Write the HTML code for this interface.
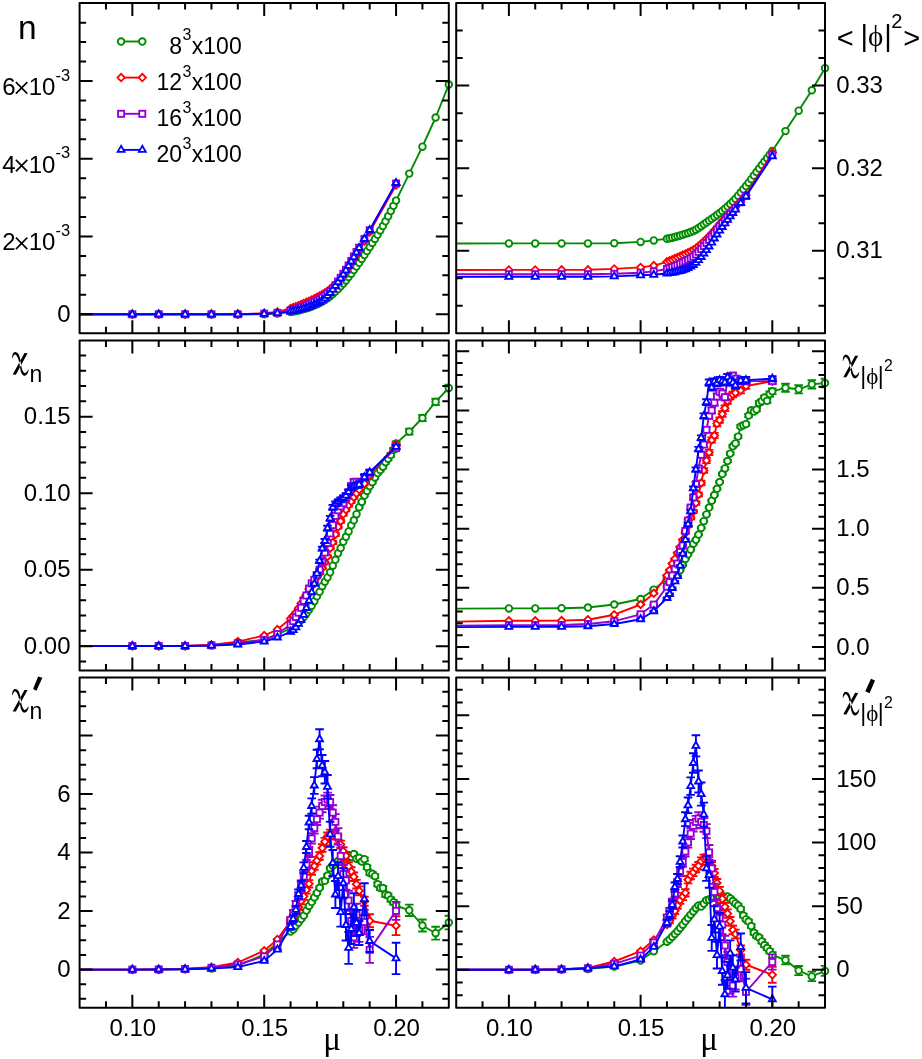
<!DOCTYPE html><html><head><meta charset="utf-8"><title>chart</title><style>html,body{margin:0;padding:0;background:#fff}svg{display:block;will-change:transform}text{font-family:"Liberation Sans",sans-serif;fill:#000}.s{font-family:"Liberation Serif",serif}</style></head><body>
<svg width="922" height="1059" viewBox="0 0 922 1059">
<rect width="922" height="1059" fill="#fff"/>
<defs><clipPath id="clip_n"><rect x="79.6" y="3.1" width="369.2" height="330.1"/></clipPath><clipPath id="clip_phi"><rect x="456.2" y="3.1" width="368.8" height="330.1"/></clipPath><clipPath id="clip_cn"><rect x="79.6" y="340.5" width="369.2" height="330"/></clipPath><clipPath id="clip_cphi"><rect x="456.2" y="340.5" width="368.8" height="330"/></clipPath><clipPath id="clip_dn"><rect x="79.6" y="677.4" width="369.2" height="330.45"/></clipPath><clipPath id="clip_dphi"><rect x="456.2" y="677.4" width="368.8" height="330.45"/></clipPath></defs>
<g stroke="#008b00" stroke-width="1.9" fill="none">
<g clip-path="url(#clip_n)">
<polyline stroke-linejoin="round" points="79.6,314.3 132.34,314.3 158.71,314.3 185.09,314.3 211.46,314.3 237.83,314.3 264.2,314.3 277.39,313.4 290.57,312 293.21,311.57 295.85,311.06 298.48,310.46 301.12,309.81 303.76,309.1 306.39,308.31 309.03,307.41 311.67,306.41 314.31,305.34 316.94,304.2 319.58,302.96 322.22,301.56 324.85,300 327.49,298.25 330.13,296.3 332.77,294.06 335.4,291.58 338.04,289.02 340.68,286.36 343.31,283.5 345.95,280.4 348.59,277.11 351.23,273.67 353.86,270.12 356.5,266.5 359.14,262.79 361.77,258.96 364.41,255.03 367.05,251.04 369.69,247 372.32,242.96 374.96,238.9 377.6,234.76 380.23,230.48 382.87,226 385.51,221.25 388.15,216.26 390.78,211.1 393.42,205.86 396.06,200.6 409.24,173.6 422.43,146.7 435.61,117.5 448.8,84.5"/>
</g>
<g fill="#fff" stroke-width="1.85">
<circle cx="132.34" cy="314.3" r="3.3"/>
<circle cx="158.71" cy="314.3" r="3.3"/>
<circle cx="185.09" cy="314.3" r="3.3"/>
<circle cx="211.46" cy="314.3" r="3.3"/>
<circle cx="237.83" cy="314.3" r="3.3"/>
<circle cx="264.2" cy="314.3" r="3.3"/>
<circle cx="277.39" cy="313.4" r="3.3"/>
<circle cx="290.57" cy="312" r="3.3"/>
<circle cx="293.21" cy="311.57" r="3.3"/>
<circle cx="295.85" cy="311.06" r="3.3"/>
<circle cx="298.48" cy="310.46" r="3.3"/>
<circle cx="301.12" cy="309.81" r="3.3"/>
<circle cx="303.76" cy="309.1" r="3.3"/>
<circle cx="306.39" cy="308.31" r="3.3"/>
<circle cx="309.03" cy="307.41" r="3.3"/>
<circle cx="311.67" cy="306.41" r="3.3"/>
<circle cx="314.31" cy="305.34" r="3.3"/>
<circle cx="316.94" cy="304.2" r="3.3"/>
<circle cx="319.58" cy="302.96" r="3.3"/>
<circle cx="322.22" cy="301.56" r="3.3"/>
<circle cx="324.85" cy="300" r="3.3"/>
<circle cx="327.49" cy="298.25" r="3.3"/>
<circle cx="330.13" cy="296.3" r="3.3"/>
<circle cx="332.77" cy="294.06" r="3.3"/>
<circle cx="335.4" cy="291.58" r="3.3"/>
<circle cx="338.04" cy="289.02" r="3.3"/>
<circle cx="340.68" cy="286.36" r="3.3"/>
<circle cx="343.31" cy="283.5" r="3.3"/>
<circle cx="345.95" cy="280.4" r="3.3"/>
<circle cx="348.59" cy="277.11" r="3.3"/>
<circle cx="351.23" cy="273.67" r="3.3"/>
<circle cx="353.86" cy="270.12" r="3.3"/>
<circle cx="356.5" cy="266.5" r="3.3"/>
<circle cx="359.14" cy="262.79" r="3.3"/>
<circle cx="361.77" cy="258.96" r="3.3"/>
<circle cx="364.41" cy="255.03" r="3.3"/>
<circle cx="367.05" cy="251.04" r="3.3"/>
<circle cx="369.69" cy="247" r="3.3"/>
<circle cx="372.32" cy="242.96" r="3.3"/>
<circle cx="374.96" cy="238.9" r="3.3"/>
<circle cx="377.6" cy="234.76" r="3.3"/>
<circle cx="380.23" cy="230.48" r="3.3"/>
<circle cx="382.87" cy="226" r="3.3"/>
<circle cx="385.51" cy="221.25" r="3.3"/>
<circle cx="388.15" cy="216.26" r="3.3"/>
<circle cx="390.78" cy="211.1" r="3.3"/>
<circle cx="393.42" cy="205.86" r="3.3"/>
<circle cx="396.06" cy="200.6" r="3.3"/>
<circle cx="409.24" cy="173.6" r="3.3"/>
<circle cx="422.43" cy="146.7" r="3.3"/>
<circle cx="435.61" cy="117.5" r="3.3"/>
<circle cx="448.8" cy="84.5" r="3.3"/>
</g></g>
<g stroke="#ff0000" stroke-width="1.9" fill="none">
<g clip-path="url(#clip_n)">
<polyline stroke-linejoin="round" points="79.6,314.3 132.34,314.3 158.71,314.3 185.09,314.3 211.46,314.3 237.83,314.3 264.2,313.3 277.39,312 290.57,308.5 293.21,307.63 295.85,306.68 298.48,305.66 301.12,304.6 303.76,303.5 306.39,302.37 309.03,301.19 311.67,299.96 314.31,298.66 316.94,297.3 319.58,295.9 322.22,294.46 324.85,292.91 327.49,291.21 330.13,289.3 332.77,287.08 335.4,284.51 338.04,281.66 340.68,278.57 343.31,275.3 345.95,271.69 348.59,267.64 351.23,263.33 353.86,258.89 356.5,254.5 359.14,250.13 364.41,241.15 369.69,232 396.06,185"/>
</g>
<g fill="#fff" stroke-width="1.85">
<path d="M128.64 314.3L132.34 310.6L136.04 314.3L132.34 318Z"/>
<path d="M155.01 314.3L158.71 310.6L162.41 314.3L158.71 318Z"/>
<path d="M181.39 314.3L185.09 310.6L188.79 314.3L185.09 318Z"/>
<path d="M207.76 314.3L211.46 310.6L215.16 314.3L211.46 318Z"/>
<path d="M234.13 314.3L237.83 310.6L241.53 314.3L237.83 318Z"/>
<path d="M260.5 313.3L264.2 309.6L267.9 313.3L264.2 317Z"/>
<path d="M273.69 312L277.39 308.3L281.09 312L277.39 315.7Z"/>
<path d="M286.87 308.5L290.57 304.8L294.27 308.5L290.57 312.2Z"/>
<path d="M289.51 307.63L293.21 303.93L296.91 307.63L293.21 311.33Z"/>
<path d="M292.15 306.68L295.85 302.98L299.55 306.68L295.85 310.38Z"/>
<path d="M294.78 305.66L298.48 301.96L302.18 305.66L298.48 309.36Z"/>
<path d="M297.42 304.6L301.12 300.9L304.82 304.6L301.12 308.3Z"/>
<path d="M300.06 303.5L303.76 299.8L307.46 303.5L303.76 307.2Z"/>
<path d="M302.69 302.37L306.39 298.67L310.09 302.37L306.39 306.07Z"/>
<path d="M305.33 301.19L309.03 297.49L312.73 301.19L309.03 304.89Z"/>
<path d="M307.97 299.96L311.67 296.26L315.37 299.96L311.67 303.66Z"/>
<path d="M310.61 298.66L314.31 294.96L318.01 298.66L314.31 302.36Z"/>
<path d="M313.24 297.3L316.94 293.6L320.64 297.3L316.94 301Z"/>
<path d="M315.88 295.9L319.58 292.2L323.28 295.9L319.58 299.6Z"/>
<path d="M318.52 294.46L322.22 290.76L325.92 294.46L322.22 298.16Z"/>
<path d="M321.15 292.91L324.85 289.21L328.55 292.91L324.85 296.61Z"/>
<path d="M323.79 291.21L327.49 287.51L331.19 291.21L327.49 294.91Z"/>
<path d="M326.43 289.3L330.13 285.6L333.83 289.3L330.13 293Z"/>
<path d="M329.07 287.08L332.77 283.38L336.47 287.08L332.77 290.78Z"/>
<path d="M331.7 284.51L335.4 280.81L339.1 284.51L335.4 288.21Z"/>
<path d="M334.34 281.66L338.04 277.96L341.74 281.66L338.04 285.36Z"/>
<path d="M336.98 278.57L340.68 274.87L344.38 278.57L340.68 282.27Z"/>
<path d="M339.61 275.3L343.31 271.6L347.01 275.3L343.31 279Z"/>
<path d="M342.25 271.69L345.95 267.99L349.65 271.69L345.95 275.39Z"/>
<path d="M344.89 267.64L348.59 263.94L352.29 267.64L348.59 271.34Z"/>
<path d="M347.53 263.33L351.23 259.63L354.93 263.33L351.23 267.03Z"/>
<path d="M350.16 258.89L353.86 255.19L357.56 258.89L353.86 262.59Z"/>
<path d="M352.8 254.5L356.5 250.8L360.2 254.5L356.5 258.2Z"/>
<path d="M355.44 250.13L359.14 246.43L362.84 250.13L359.14 253.83Z"/>
<path d="M360.71 241.15L364.41 237.45L368.11 241.15L364.41 244.85Z"/>
<path d="M365.99 232L369.69 228.3L373.39 232L369.69 235.7Z"/>
<path d="M392.36 185L396.06 181.3L399.76 185L396.06 188.7Z"/>
</g></g>
<g stroke="#9400d3" stroke-width="1.9" fill="none">
<g clip-path="url(#clip_n)">
<polyline stroke-linejoin="round" points="79.6,314.3 132.34,314.3 158.71,314.3 185.09,314.3 211.46,314.3 237.83,314.3 264.2,313.6 277.39,312.8 290.57,310.5 293.21,309.86 295.85,309.12 298.48,308.3 301.12,307.42 303.76,306.5 306.39,305.53 309.03,304.5 311.67,303.38 314.31,302.15 316.94,300.8 319.58,299.29 322.22,297.61 324.85,295.73 327.49,293.64 330.13,291.3 332.77,288.52 335.4,285.23 338.04,281.57 340.68,277.71 343.31,273.8 345.95,269.74 348.59,265.42 351.23,260.94 353.86,256.43 356.5,252 359.14,247.68 364.41,239.08 369.69,230.3 396.06,183.5"/>
</g>
<g fill="#fff" stroke-width="1.85">
<rect x="129.29" y="311.25" width="6.1" height="6.1"/>
<rect x="155.66" y="311.25" width="6.1" height="6.1"/>
<rect x="182.04" y="311.25" width="6.1" height="6.1"/>
<rect x="208.41" y="311.25" width="6.1" height="6.1"/>
<rect x="234.78" y="311.25" width="6.1" height="6.1"/>
<rect x="261.15" y="310.55" width="6.1" height="6.1"/>
<rect x="274.34" y="309.75" width="6.1" height="6.1"/>
<rect x="287.52" y="307.45" width="6.1" height="6.1"/>
<rect x="290.16" y="306.81" width="6.1" height="6.1"/>
<rect x="292.8" y="306.07" width="6.1" height="6.1"/>
<rect x="295.43" y="305.25" width="6.1" height="6.1"/>
<rect x="298.07" y="304.37" width="6.1" height="6.1"/>
<rect x="300.71" y="303.45" width="6.1" height="6.1"/>
<rect x="303.34" y="302.48" width="6.1" height="6.1"/>
<rect x="305.98" y="301.45" width="6.1" height="6.1"/>
<rect x="308.62" y="300.33" width="6.1" height="6.1"/>
<rect x="311.26" y="299.1" width="6.1" height="6.1"/>
<rect x="313.89" y="297.75" width="6.1" height="6.1"/>
<rect x="316.53" y="296.24" width="6.1" height="6.1"/>
<rect x="319.17" y="294.56" width="6.1" height="6.1"/>
<rect x="321.8" y="292.68" width="6.1" height="6.1"/>
<rect x="324.44" y="290.59" width="6.1" height="6.1"/>
<rect x="327.08" y="288.25" width="6.1" height="6.1"/>
<rect x="329.72" y="285.47" width="6.1" height="6.1"/>
<rect x="332.35" y="282.18" width="6.1" height="6.1"/>
<rect x="334.99" y="278.52" width="6.1" height="6.1"/>
<rect x="337.63" y="274.66" width="6.1" height="6.1"/>
<rect x="340.26" y="270.75" width="6.1" height="6.1"/>
<rect x="342.9" y="266.69" width="6.1" height="6.1"/>
<rect x="345.54" y="262.37" width="6.1" height="6.1"/>
<rect x="348.18" y="257.89" width="6.1" height="6.1"/>
<rect x="350.81" y="253.38" width="6.1" height="6.1"/>
<rect x="353.45" y="248.95" width="6.1" height="6.1"/>
<rect x="356.09" y="244.63" width="6.1" height="6.1"/>
<rect x="361.36" y="236.03" width="6.1" height="6.1"/>
<rect x="366.64" y="227.25" width="6.1" height="6.1"/>
<rect x="393.01" y="180.45" width="6.1" height="6.1"/>
</g></g>
<g stroke="#0000ff" stroke-width="1.9" fill="none">
<g clip-path="url(#clip_n)">
<polyline stroke-linejoin="round" points="79.6,314.3 132.34,314.3 158.71,314.3 185.09,314.3 211.46,314.3 237.83,314.3 264.2,313.8 277.39,313.1 290.57,311.6 293.21,311.15 295.85,310.62 298.48,310.01 301.12,309.34 303.76,308.6 306.39,307.78 309.03,306.83 311.67,305.78 314.31,304.64 316.94,303.4 319.58,302.04 322.22,300.43 324.85,298.44 327.49,295.91 330.13,293 332.77,289.63 335.4,285.88 338.04,282.15 340.68,278.41 343.31,274.5 345.95,270.31 348.59,265.93 351.23,261.5 353.86,257.05 356.5,252.54 359.14,248 364.41,238.8 369.69,230 396.06,183"/>
</g>
<g fill="#fff" stroke-width="1.85">
<path d="M132.34 310.3L128.88 316.3L135.81 316.3Z"/>
<path d="M158.71 310.3L155.25 316.3L162.18 316.3Z"/>
<path d="M185.09 310.3L181.62 316.3L188.55 316.3Z"/>
<path d="M211.46 310.3L207.99 316.3L214.92 316.3Z"/>
<path d="M237.83 310.3L234.36 316.3L241.29 316.3Z"/>
<path d="M264.2 309.8L260.74 315.8L267.66 315.8Z"/>
<path d="M277.39 309.1L273.92 315.1L280.85 315.1Z"/>
<path d="M290.57 307.6L287.11 313.6L294.04 313.6Z"/>
<path d="M293.21 307.15L289.74 313.15L296.67 313.15Z"/>
<path d="M295.85 306.62L292.38 312.62L299.31 312.62Z"/>
<path d="M298.48 306.01L295.02 312.01L301.95 312.01Z"/>
<path d="M301.12 305.34L297.66 311.34L304.58 311.34Z"/>
<path d="M303.76 304.6L300.29 310.6L307.22 310.6Z"/>
<path d="M306.39 303.78L302.93 309.78L309.86 309.78Z"/>
<path d="M309.03 302.83L305.57 308.83L312.5 308.83Z"/>
<path d="M311.67 301.78L308.2 307.78L315.13 307.78Z"/>
<path d="M314.31 300.64L310.84 306.64L317.77 306.64Z"/>
<path d="M316.94 299.4L313.48 305.4L320.41 305.4Z"/>
<path d="M319.58 298.04L316.12 304.04L323.04 304.04Z"/>
<path d="M322.22 296.43L318.75 302.43L325.68 302.43Z"/>
<path d="M324.85 294.44L321.39 300.44L328.32 300.44Z"/>
<path d="M327.49 291.91L324.03 297.91L330.96 297.91Z"/>
<path d="M330.13 289L326.66 295L333.59 295Z"/>
<path d="M332.77 285.63L329.3 291.63L336.23 291.63Z"/>
<path d="M335.4 281.88L331.94 287.88L338.87 287.88Z"/>
<path d="M338.04 278.15L334.58 284.15L341.5 284.15Z"/>
<path d="M340.68 274.41L337.21 280.41L344.14 280.41Z"/>
<path d="M343.31 270.5L339.85 276.5L346.78 276.5Z"/>
<path d="M345.95 266.31L342.49 272.31L349.42 272.31Z"/>
<path d="M348.59 261.93L345.12 267.93L352.05 267.93Z"/>
<path d="M351.23 257.5L347.76 263.5L354.69 263.5Z"/>
<path d="M353.86 253.05L350.4 259.05L357.33 259.05Z"/>
<path d="M356.5 248.54L353.04 254.54L359.96 254.54Z"/>
<path d="M359.14 244L355.67 250L362.6 250Z"/>
<path d="M364.41 234.8L360.95 240.8L367.88 240.8Z"/>
<path d="M369.69 226L366.22 232L373.15 232Z"/>
<path d="M396.06 179L392.59 185L399.52 185Z"/>
</g></g>
<g stroke="#008b00" stroke-width="1.9" fill="none">
<g clip-path="url(#clip_phi)">
<polyline stroke-linejoin="round" points="456.2,243.5 508.89,243.4 535.23,243.4 561.57,243.4 587.91,243.4 614.26,243.2 640.6,241.9 653.77,240.4 666.94,238.8 669.58,238.29 672.21,237.66 674.85,236.94 677.48,236.17 680.11,235.4 682.75,234.64 685.38,233.86 688.02,233.02 690.65,232.08 693.29,231 695.92,229.65 698.55,228 701.19,226.16 703.82,224.26 706.46,222.4 709.09,220.6 711.73,218.79 714.36,216.94 716.99,215.01 719.63,213 722.26,210.9 724.9,208.73 727.53,206.46 730.17,204.06 732.8,201.5 735.43,198.72 738.07,195.72 740.7,192.56 743.34,189.29 745.97,186 748.61,182.64 751.24,179.15 753.87,175.6 756.51,172.03 759.14,168.5 761.78,165.04 764.41,161.61 767.05,158.16 769.68,154.64 772.31,151 785.49,131.1 798.66,110.7 811.83,90.3 825,68.2"/>
</g>
<g fill="#fff" stroke-width="1.85">
<circle cx="508.89" cy="243.4" r="3.3"/>
<circle cx="535.23" cy="243.4" r="3.3"/>
<circle cx="561.57" cy="243.4" r="3.3"/>
<circle cx="587.91" cy="243.4" r="3.3"/>
<circle cx="614.26" cy="243.2" r="3.3"/>
<circle cx="640.6" cy="241.9" r="3.3"/>
<circle cx="653.77" cy="240.4" r="3.3"/>
<circle cx="666.94" cy="238.8" r="3.3"/>
<circle cx="669.58" cy="238.29" r="3.3"/>
<circle cx="672.21" cy="237.66" r="3.3"/>
<circle cx="674.85" cy="236.94" r="3.3"/>
<circle cx="677.48" cy="236.17" r="3.3"/>
<circle cx="680.11" cy="235.4" r="3.3"/>
<circle cx="682.75" cy="234.64" r="3.3"/>
<circle cx="685.38" cy="233.86" r="3.3"/>
<circle cx="688.02" cy="233.02" r="3.3"/>
<circle cx="690.65" cy="232.08" r="3.3"/>
<circle cx="693.29" cy="231" r="3.3"/>
<circle cx="695.92" cy="229.65" r="3.3"/>
<circle cx="698.55" cy="228" r="3.3"/>
<circle cx="701.19" cy="226.16" r="3.3"/>
<circle cx="703.82" cy="224.26" r="3.3"/>
<circle cx="706.46" cy="222.4" r="3.3"/>
<circle cx="709.09" cy="220.6" r="3.3"/>
<circle cx="711.73" cy="218.79" r="3.3"/>
<circle cx="714.36" cy="216.94" r="3.3"/>
<circle cx="716.99" cy="215.01" r="3.3"/>
<circle cx="719.63" cy="213" r="3.3"/>
<circle cx="722.26" cy="210.9" r="3.3"/>
<circle cx="724.9" cy="208.73" r="3.3"/>
<circle cx="727.53" cy="206.46" r="3.3"/>
<circle cx="730.17" cy="204.06" r="3.3"/>
<circle cx="732.8" cy="201.5" r="3.3"/>
<circle cx="735.43" cy="198.72" r="3.3"/>
<circle cx="738.07" cy="195.72" r="3.3"/>
<circle cx="740.7" cy="192.56" r="3.3"/>
<circle cx="743.34" cy="189.29" r="3.3"/>
<circle cx="745.97" cy="186" r="3.3"/>
<circle cx="748.61" cy="182.64" r="3.3"/>
<circle cx="751.24" cy="179.15" r="3.3"/>
<circle cx="753.87" cy="175.6" r="3.3"/>
<circle cx="756.51" cy="172.03" r="3.3"/>
<circle cx="759.14" cy="168.5" r="3.3"/>
<circle cx="761.78" cy="165.04" r="3.3"/>
<circle cx="764.41" cy="161.61" r="3.3"/>
<circle cx="767.05" cy="158.16" r="3.3"/>
<circle cx="769.68" cy="154.64" r="3.3"/>
<circle cx="772.31" cy="151" r="3.3"/>
<circle cx="785.49" cy="131.1" r="3.3"/>
<circle cx="798.66" cy="110.7" r="3.3"/>
<circle cx="811.83" cy="90.3" r="3.3"/>
<circle cx="825" cy="68.2" r="3.3"/>
</g></g>
<g stroke="#ff0000" stroke-width="1.9" fill="none">
<g clip-path="url(#clip_phi)">
<polyline stroke-linejoin="round" points="456.2,270 508.89,269.9 535.23,269.89 561.57,269.86 587.91,269.8 614.26,268.9 640.6,267.4 653.77,265.6 666.94,261.8 669.58,260.83 672.21,259.74 674.85,258.58 677.48,257.39 680.11,256.2 682.75,255.06 685.38,253.93 688.02,252.76 690.65,251.47 693.29,250 695.92,248.24 698.55,246.19 701.19,243.92 703.82,241.5 706.46,239 709.09,236.33 711.73,233.43 714.36,230.39 716.99,227.31 719.63,224.3 722.26,221.34 724.9,218.37 727.53,215.4 730.17,212.44 732.8,209.5 735.43,206.66 740.7,201.12 745.97,195 772.31,152.8"/>
</g>
<g fill="#fff" stroke-width="1.85">
<path d="M505.19 269.9L508.89 266.2L512.59 269.9L508.89 273.6Z"/>
<path d="M531.53 269.89L535.23 266.19L538.93 269.89L535.23 273.59Z"/>
<path d="M557.87 269.86L561.57 266.16L565.27 269.86L561.57 273.56Z"/>
<path d="M584.21 269.8L587.91 266.1L591.61 269.8L587.91 273.5Z"/>
<path d="M610.56 268.9L614.26 265.2L617.96 268.9L614.26 272.6Z"/>
<path d="M636.9 267.4L640.6 263.7L644.3 267.4L640.6 271.1Z"/>
<path d="M650.07 265.6L653.77 261.9L657.47 265.6L653.77 269.3Z"/>
<path d="M663.24 261.8L666.94 258.1L670.64 261.8L666.94 265.5Z"/>
<path d="M665.88 260.83L669.58 257.13L673.28 260.83L669.58 264.53Z"/>
<path d="M668.51 259.74L672.21 256.04L675.91 259.74L672.21 263.44Z"/>
<path d="M671.15 258.58L674.85 254.88L678.55 258.58L674.85 262.28Z"/>
<path d="M673.78 257.39L677.48 253.69L681.18 257.39L677.48 261.09Z"/>
<path d="M676.41 256.2L680.11 252.5L683.81 256.2L680.11 259.9Z"/>
<path d="M679.05 255.06L682.75 251.36L686.45 255.06L682.75 258.76Z"/>
<path d="M681.68 253.93L685.38 250.23L689.08 253.93L685.38 257.63Z"/>
<path d="M684.32 252.76L688.02 249.06L691.72 252.76L688.02 256.46Z"/>
<path d="M686.95 251.47L690.65 247.77L694.35 251.47L690.65 255.17Z"/>
<path d="M689.59 250L693.29 246.3L696.99 250L693.29 253.7Z"/>
<path d="M692.22 248.24L695.92 244.54L699.62 248.24L695.92 251.94Z"/>
<path d="M694.85 246.19L698.55 242.49L702.25 246.19L698.55 249.89Z"/>
<path d="M697.49 243.92L701.19 240.22L704.89 243.92L701.19 247.62Z"/>
<path d="M700.12 241.5L703.82 237.8L707.52 241.5L703.82 245.2Z"/>
<path d="M702.76 239L706.46 235.3L710.16 239L706.46 242.7Z"/>
<path d="M705.39 236.33L709.09 232.63L712.79 236.33L709.09 240.03Z"/>
<path d="M708.03 233.43L711.73 229.73L715.43 233.43L711.73 237.13Z"/>
<path d="M710.66 230.39L714.36 226.69L718.06 230.39L714.36 234.09Z"/>
<path d="M713.29 227.31L716.99 223.61L720.69 227.31L716.99 231.01Z"/>
<path d="M715.93 224.3L719.63 220.6L723.33 224.3L719.63 228Z"/>
<path d="M718.56 221.34L722.26 217.64L725.96 221.34L722.26 225.04Z"/>
<path d="M721.2 218.37L724.9 214.67L728.6 218.37L724.9 222.07Z"/>
<path d="M723.83 215.4L727.53 211.7L731.23 215.4L727.53 219.1Z"/>
<path d="M726.47 212.44L730.17 208.74L733.87 212.44L730.17 216.14Z"/>
<path d="M729.1 209.5L732.8 205.8L736.5 209.5L732.8 213.2Z"/>
<path d="M731.73 206.66L735.43 202.96L739.13 206.66L735.43 210.36Z"/>
<path d="M737 201.12L740.7 197.42L744.4 201.12L740.7 204.82Z"/>
<path d="M742.27 195L745.97 191.3L749.67 195L745.97 198.7Z"/>
<path d="M768.61 152.8L772.31 149.1L776.01 152.8L772.31 156.5Z"/>
</g></g>
<g stroke="#9400d3" stroke-width="1.9" fill="none">
<g clip-path="url(#clip_phi)">
<polyline stroke-linejoin="round" points="456.2,274.3 508.89,274.2 535.23,274.2 561.57,274.2 587.91,274.2 614.26,273.8 640.6,272.7 653.77,271.4 666.94,269 669.58,268.23 672.21,267.28 674.85,266.18 677.48,265.01 680.11,263.8 682.75,262.58 685.38,261.3 688.02,259.91 690.65,258.36 693.29,256.6 695.92,254.46 698.55,251.9 701.19,249.04 703.82,246.03 706.46,243 709.09,239.86 711.73,236.5 714.36,233.04 716.99,229.6 719.63,226.3 722.26,223.15 724.9,220.07 727.53,217.03 730.17,214.02 732.8,211 735.43,208.05 740.7,202.29 745.97,196 772.31,154.6"/>
</g>
<g fill="#fff" stroke-width="1.85">
<rect x="505.84" y="271.15" width="6.1" height="6.1"/>
<rect x="532.18" y="271.15" width="6.1" height="6.1"/>
<rect x="558.52" y="271.15" width="6.1" height="6.1"/>
<rect x="584.86" y="271.15" width="6.1" height="6.1"/>
<rect x="611.21" y="270.75" width="6.1" height="6.1"/>
<rect x="637.55" y="269.65" width="6.1" height="6.1"/>
<rect x="650.72" y="268.35" width="6.1" height="6.1"/>
<rect x="663.89" y="265.95" width="6.1" height="6.1"/>
<rect x="666.53" y="265.18" width="6.1" height="6.1"/>
<rect x="669.16" y="264.23" width="6.1" height="6.1"/>
<rect x="671.8" y="263.13" width="6.1" height="6.1"/>
<rect x="674.43" y="261.96" width="6.1" height="6.1"/>
<rect x="677.06" y="260.75" width="6.1" height="6.1"/>
<rect x="679.7" y="259.53" width="6.1" height="6.1"/>
<rect x="682.33" y="258.25" width="6.1" height="6.1"/>
<rect x="684.97" y="256.86" width="6.1" height="6.1"/>
<rect x="687.6" y="255.31" width="6.1" height="6.1"/>
<rect x="690.24" y="253.55" width="6.1" height="6.1"/>
<rect x="692.87" y="251.41" width="6.1" height="6.1"/>
<rect x="695.5" y="248.85" width="6.1" height="6.1"/>
<rect x="698.14" y="245.99" width="6.1" height="6.1"/>
<rect x="700.77" y="242.98" width="6.1" height="6.1"/>
<rect x="703.41" y="239.95" width="6.1" height="6.1"/>
<rect x="706.04" y="236.81" width="6.1" height="6.1"/>
<rect x="708.68" y="233.45" width="6.1" height="6.1"/>
<rect x="711.31" y="229.99" width="6.1" height="6.1"/>
<rect x="713.94" y="226.55" width="6.1" height="6.1"/>
<rect x="716.58" y="223.25" width="6.1" height="6.1"/>
<rect x="719.21" y="220.1" width="6.1" height="6.1"/>
<rect x="721.85" y="217.02" width="6.1" height="6.1"/>
<rect x="724.48" y="213.98" width="6.1" height="6.1"/>
<rect x="727.12" y="210.97" width="6.1" height="6.1"/>
<rect x="729.75" y="207.95" width="6.1" height="6.1"/>
<rect x="732.38" y="205" width="6.1" height="6.1"/>
<rect x="737.65" y="199.24" width="6.1" height="6.1"/>
<rect x="742.92" y="192.95" width="6.1" height="6.1"/>
<rect x="769.26" y="151.55" width="6.1" height="6.1"/>
</g></g>
<g stroke="#0000ff" stroke-width="1.9" fill="none">
<g clip-path="url(#clip_phi)">
<polyline stroke-linejoin="round" points="456.2,276.9 508.89,276.8 535.23,276.8 561.57,276.8 587.91,276.8 614.26,276.4 640.6,275.3 653.77,274.8 666.94,273.5 669.58,273.13 672.21,272.71 674.85,272.22 677.48,271.66 680.11,271 682.75,270.2 685.38,269.2 688.02,268.01 690.65,266.61 693.29,265 695.92,262.9 698.55,260.14 701.19,256.96 703.82,253.54 706.46,250.1 709.09,246.5 711.73,242.58 714.36,238.51 716.99,234.46 719.63,230.6 722.26,226.95 724.9,223.38 727.53,219.88 730.17,216.42 732.8,213 735.43,209.63 740.7,203 745.97,196.3 772.31,156.2"/>
</g>
<g fill="#fff" stroke-width="1.85">
<path d="M508.89 272.8L505.42 278.8L512.35 278.8Z"/>
<path d="M535.23 272.8L531.76 278.8L538.69 278.8Z"/>
<path d="M561.57 272.8L558.11 278.8L565.04 278.8Z"/>
<path d="M587.91 272.8L584.45 278.8L591.38 278.8Z"/>
<path d="M614.26 272.4L610.79 278.4L617.72 278.4Z"/>
<path d="M640.6 271.3L637.14 277.3L644.06 277.3Z"/>
<path d="M653.77 270.8L650.31 276.8L657.24 276.8Z"/>
<path d="M666.94 269.5L663.48 275.5L670.41 275.5Z"/>
<path d="M669.58 269.13L666.11 275.13L673.04 275.13Z"/>
<path d="M672.21 268.71L668.75 274.71L675.68 274.71Z"/>
<path d="M674.85 268.22L671.38 274.22L678.31 274.22Z"/>
<path d="M677.48 267.66L674.02 273.66L680.94 273.66Z"/>
<path d="M680.11 267L676.65 273L683.58 273Z"/>
<path d="M682.75 266.2L679.28 272.2L686.21 272.2Z"/>
<path d="M685.38 265.2L681.92 271.2L688.85 271.2Z"/>
<path d="M688.02 264.01L684.55 270.01L691.48 270.01Z"/>
<path d="M690.65 262.61L687.19 268.61L694.12 268.61Z"/>
<path d="M693.29 261L689.82 267L696.75 267Z"/>
<path d="M695.92 258.9L692.46 264.9L699.38 264.9Z"/>
<path d="M698.55 256.14L695.09 262.14L702.02 262.14Z"/>
<path d="M701.19 252.96L697.72 258.96L704.65 258.96Z"/>
<path d="M703.82 249.54L700.36 255.54L707.29 255.54Z"/>
<path d="M706.46 246.1L702.99 252.1L709.92 252.1Z"/>
<path d="M709.09 242.5L705.63 248.5L712.56 248.5Z"/>
<path d="M711.73 238.58L708.26 244.58L715.19 244.58Z"/>
<path d="M714.36 234.51L710.9 240.51L717.82 240.51Z"/>
<path d="M716.99 230.46L713.53 236.46L720.46 236.46Z"/>
<path d="M719.63 226.6L716.16 232.6L723.09 232.6Z"/>
<path d="M722.26 222.95L718.8 228.95L725.73 228.95Z"/>
<path d="M724.9 219.38L721.43 225.38L728.36 225.38Z"/>
<path d="M727.53 215.88L724.07 221.88L731 221.88Z"/>
<path d="M730.17 212.42L726.7 218.42L733.63 218.42Z"/>
<path d="M732.8 209L729.34 215L736.26 215Z"/>
<path d="M735.43 205.63L731.97 211.63L738.9 211.63Z"/>
<path d="M740.7 199L737.24 205L744.17 205Z"/>
<path d="M745.97 192.3L742.51 198.3L749.44 198.3Z"/>
<path d="M772.31 152.2L768.85 158.2L775.78 158.2Z"/>
</g></g>
<g stroke="#008b00" stroke-width="1.9" fill="none">
<g clip-path="url(#clip_cn)">
<polyline stroke-linejoin="round" points="79.6,646 132.34,646 158.71,646 185.09,646 211.46,645.3 237.83,642.5 264.2,639.8 277.39,634.5 290.57,628.5 293.21,626.9 295.85,625 298.48,622.69 301.12,620 303.76,616.92 306.39,613.5 309.03,609.83 311.67,605.8 314.31,601.19 316.94,596.38 319.58,591.75 322.22,586.17 324.85,581.71 327.49,577.43 330.13,572.34 332.77,565.7 335.4,559.75 338.04,553.28 340.68,548.09 343.31,541.75 345.95,536.76 348.59,531.44 351.23,525.29 353.86,520.28 356.5,514.2 359.14,507.24 361.77,501.92 364.41,495.61 367.05,490.94 369.69,486.15 372.32,482.18 374.96,477.4 377.6,473.12 380.23,470.07 382.87,466.68 385.51,462.19 388.15,458.65 390.78,455.12 393.42,449.88 396.06,443.5 409.24,431.6 422.43,418 435.61,401.9 448.8,387.9"/>
<path d="M359.14 506.8V507.68M354.84 506.8H363.44M354.84 507.68H363.44M361.77 501.34V502.5M357.47 501.34H366.07M357.47 502.5H366.07M364.41 494.89V496.33M360.11 494.89H368.71M360.11 496.33H368.71M367.05 490.08V491.8M362.75 490.08H371.35M362.75 491.8H371.35M369.69 485.15V487.15M365.39 485.15H373.99M365.39 487.15H373.99M372.32 481.08V483.28M368.02 481.08H376.62M368.02 483.28H376.62M374.96 476.2V478.6M370.66 476.2H379.26M370.66 478.6H379.26M377.6 471.82V474.42M373.3 471.82H381.9M373.3 474.42H381.9M380.23 468.67V471.47M375.93 468.67H384.53M375.93 471.47H384.53M382.87 465.18V468.18M378.57 465.18H387.17M378.57 468.18H387.17M385.51 460.59V463.79M381.21 460.59H389.81M381.21 463.79H389.81M388.15 456.95V460.35M383.85 456.95H392.45M383.85 460.35H392.45M390.78 453.32V456.92M386.48 453.32H395.08M386.48 456.92H395.08M393.42 447.98V451.78M389.12 447.98H397.72M389.12 451.78H397.72M396.06 441.5V445.5M391.76 441.5H400.36M391.76 445.5H400.36M409.24 428.6V434.6M404.94 428.6H413.54M404.94 434.6H413.54M422.43 414.9V421.1M418.13 414.9H426.73M418.13 421.1H426.73M435.61 398.7V405.1M431.31 398.7H439.91M431.31 405.1H439.91M448.8 384.6V391.2M444.5 384.6H453.1M444.5 391.2H453.1"/>
</g>
<g fill="#fff" stroke-width="1.85">
<circle cx="132.34" cy="646" r="3.3"/>
<circle cx="158.71" cy="646" r="3.3"/>
<circle cx="185.09" cy="646" r="3.3"/>
<circle cx="211.46" cy="645.3" r="3.3"/>
<circle cx="237.83" cy="642.5" r="3.3"/>
<circle cx="264.2" cy="639.8" r="3.3"/>
<circle cx="277.39" cy="634.5" r="3.3"/>
<circle cx="290.57" cy="628.5" r="3.3"/>
<circle cx="293.21" cy="626.9" r="3.3"/>
<circle cx="295.85" cy="625" r="3.3"/>
<circle cx="298.48" cy="622.69" r="3.3"/>
<circle cx="301.12" cy="620" r="3.3"/>
<circle cx="303.76" cy="616.92" r="3.3"/>
<circle cx="306.39" cy="613.5" r="3.3"/>
<circle cx="309.03" cy="609.83" r="3.3"/>
<circle cx="311.67" cy="605.8" r="3.3"/>
<circle cx="314.31" cy="601.19" r="3.3"/>
<circle cx="316.94" cy="596.38" r="3.3"/>
<circle cx="319.58" cy="591.75" r="3.3"/>
<circle cx="322.22" cy="586.17" r="3.3"/>
<circle cx="324.85" cy="581.71" r="3.3"/>
<circle cx="327.49" cy="577.43" r="3.3"/>
<circle cx="330.13" cy="572.34" r="3.3"/>
<circle cx="332.77" cy="565.7" r="3.3"/>
<circle cx="335.4" cy="559.75" r="3.3"/>
<circle cx="338.04" cy="553.28" r="3.3"/>
<circle cx="340.68" cy="548.09" r="3.3"/>
<circle cx="343.31" cy="541.75" r="3.3"/>
<circle cx="345.95" cy="536.76" r="3.3"/>
<circle cx="348.59" cy="531.44" r="3.3"/>
<circle cx="351.23" cy="525.29" r="3.3"/>
<circle cx="353.86" cy="520.28" r="3.3"/>
<circle cx="356.5" cy="514.2" r="3.3"/>
<circle cx="359.14" cy="507.24" r="3.3"/>
<circle cx="361.77" cy="501.92" r="3.3"/>
<circle cx="364.41" cy="495.61" r="3.3"/>
<circle cx="367.05" cy="490.94" r="3.3"/>
<circle cx="369.69" cy="486.15" r="3.3"/>
<circle cx="372.32" cy="482.18" r="3.3"/>
<circle cx="374.96" cy="477.4" r="3.3"/>
<circle cx="377.6" cy="473.12" r="3.3"/>
<circle cx="380.23" cy="470.07" r="3.3"/>
<circle cx="382.87" cy="466.68" r="3.3"/>
<circle cx="385.51" cy="462.19" r="3.3"/>
<circle cx="388.15" cy="458.65" r="3.3"/>
<circle cx="390.78" cy="455.12" r="3.3"/>
<circle cx="393.42" cy="449.88" r="3.3"/>
<circle cx="396.06" cy="443.5" r="3.3"/>
<circle cx="409.24" cy="431.6" r="3.3"/>
<circle cx="422.43" cy="418" r="3.3"/>
<circle cx="435.61" cy="401.9" r="3.3"/>
<circle cx="448.8" cy="387.9" r="3.3"/>
</g></g>
<g stroke="#ff0000" stroke-width="1.9" fill="none">
<g clip-path="url(#clip_cn)">
<polyline stroke-linejoin="round" points="79.6,646 132.34,646 158.71,646 185.09,646 211.46,645 237.83,641.6 264.2,635.5 277.39,629.6 290.57,618.6 293.21,615.75 295.85,612.4 298.48,608.19 301.12,603.5 303.76,598.22 306.39,594.67 309.03,589.19 311.67,586.35 314.31,581.52 316.94,577.6 319.58,573.51 322.22,568.33 324.85,562.71 327.49,556.44 330.13,548.25 332.77,542.43 335.4,534.39 338.04,526.88 340.68,521.18 343.31,514.09 345.95,509.63 348.59,505.13 351.23,501.39 353.86,497.14 356.5,493.38 359.14,489.58 364.41,483.61 369.69,475.4 396.06,444.5"/>
<path d="M319.58 572.99V574.03M315.28 572.99H323.88M315.28 574.03H323.88M322.22 567.6V569.06M317.92 567.6H326.52M317.92 569.06H326.52M324.85 561.76V563.66M320.55 561.76H329.15M320.55 563.66H329.15M327.49 555.27V557.61M323.19 555.27H331.79M323.19 557.61H331.79M330.13 546.87V549.63M325.83 546.87H334.43M325.83 549.63H334.43M332.77 540.83V544.03M328.47 540.83H337.07M328.47 544.03H337.07M335.4 532.78V536M331.1 532.78H339.7M331.1 536H339.7M338.04 525.25V528.51M333.74 525.25H342.34M333.74 528.51H342.34M340.68 519.54V522.82M336.38 519.54H344.98M336.38 522.82H344.98M343.31 512.43V515.75M339.01 512.43H347.61M339.01 515.75H347.61M345.95 507.96V511.3M341.65 507.96H350.25M341.65 511.3H350.25M348.59 503.44V506.82M344.29 503.44H352.89M344.29 506.82H352.89M351.23 499.69V503.09M346.93 499.69H355.53M346.93 503.09H355.53M353.86 495.43V498.85M349.56 495.43H358.16M349.56 498.85H358.16M356.5 491.65V495.11M352.2 491.65H360.8M352.2 495.11H360.8M359.14 487.84V491.32M354.84 487.84H363.44M354.84 491.32H363.44M364.41 481.84V485.38M360.11 481.84H368.71M360.11 485.38H368.71M369.69 473.6V477.2M365.39 473.6H373.99M365.39 477.2H373.99M396.06 443V446M391.76 443H400.36M391.76 446H400.36"/>
</g>
<g fill="#fff" stroke-width="1.85">
<path d="M128.64 646L132.34 642.3L136.04 646L132.34 649.7Z"/>
<path d="M155.01 646L158.71 642.3L162.41 646L158.71 649.7Z"/>
<path d="M181.39 646L185.09 642.3L188.79 646L185.09 649.7Z"/>
<path d="M207.76 645L211.46 641.3L215.16 645L211.46 648.7Z"/>
<path d="M234.13 641.6L237.83 637.9L241.53 641.6L237.83 645.3Z"/>
<path d="M260.5 635.5L264.2 631.8L267.9 635.5L264.2 639.2Z"/>
<path d="M273.69 629.6L277.39 625.9L281.09 629.6L277.39 633.3Z"/>
<path d="M286.87 618.6L290.57 614.9L294.27 618.6L290.57 622.3Z"/>
<path d="M289.51 615.75L293.21 612.05L296.91 615.75L293.21 619.45Z"/>
<path d="M292.15 612.4L295.85 608.7L299.55 612.4L295.85 616.1Z"/>
<path d="M294.78 608.19L298.48 604.49L302.18 608.19L298.48 611.89Z"/>
<path d="M297.42 603.5L301.12 599.8L304.82 603.5L301.12 607.2Z"/>
<path d="M300.06 598.22L303.76 594.52L307.46 598.22L303.76 601.92Z"/>
<path d="M302.69 594.67L306.39 590.97L310.09 594.67L306.39 598.37Z"/>
<path d="M305.33 589.19L309.03 585.49L312.73 589.19L309.03 592.89Z"/>
<path d="M307.97 586.35L311.67 582.65L315.37 586.35L311.67 590.05Z"/>
<path d="M310.61 581.52L314.31 577.82L318.01 581.52L314.31 585.22Z"/>
<path d="M313.24 577.6L316.94 573.9L320.64 577.6L316.94 581.3Z"/>
<path d="M315.88 573.51L319.58 569.81L323.28 573.51L319.58 577.21Z"/>
<path d="M318.52 568.33L322.22 564.63L325.92 568.33L322.22 572.03Z"/>
<path d="M321.15 562.71L324.85 559.01L328.55 562.71L324.85 566.41Z"/>
<path d="M323.79 556.44L327.49 552.74L331.19 556.44L327.49 560.14Z"/>
<path d="M326.43 548.25L330.13 544.55L333.83 548.25L330.13 551.95Z"/>
<path d="M329.07 542.43L332.77 538.73L336.47 542.43L332.77 546.13Z"/>
<path d="M331.7 534.39L335.4 530.69L339.1 534.39L335.4 538.09Z"/>
<path d="M334.34 526.88L338.04 523.18L341.74 526.88L338.04 530.58Z"/>
<path d="M336.98 521.18L340.68 517.48L344.38 521.18L340.68 524.88Z"/>
<path d="M339.61 514.09L343.31 510.39L347.01 514.09L343.31 517.79Z"/>
<path d="M342.25 509.63L345.95 505.93L349.65 509.63L345.95 513.33Z"/>
<path d="M344.89 505.13L348.59 501.43L352.29 505.13L348.59 508.83Z"/>
<path d="M347.53 501.39L351.23 497.69L354.93 501.39L351.23 505.09Z"/>
<path d="M350.16 497.14L353.86 493.44L357.56 497.14L353.86 500.84Z"/>
<path d="M352.8 493.38L356.5 489.68L360.2 493.38L356.5 497.08Z"/>
<path d="M355.44 489.58L359.14 485.88L362.84 489.58L359.14 493.28Z"/>
<path d="M360.71 483.61L364.41 479.91L368.11 483.61L364.41 487.31Z"/>
<path d="M365.99 475.4L369.69 471.7L373.39 475.4L369.69 479.1Z"/>
<path d="M392.36 444.5L396.06 440.8L399.76 444.5L396.06 448.2Z"/>
</g></g>
<g stroke="#9400d3" stroke-width="1.9" fill="none">
<g clip-path="url(#clip_cn)">
<polyline stroke-linejoin="round" points="79.6,646 132.34,646 158.71,646 185.09,646 211.46,645.3 237.83,643.2 264.2,639.8 277.39,634.1 290.57,624.6 293.21,621.18 295.85,617 298.48,612.7 301.12,607.8 303.76,600.85 306.39,595.5 309.03,588.54 311.67,583.4 314.31,579.82 316.94,575.07 319.58,569.7 322.22,561.23 324.85,552.58 327.49,543 330.13,533.42 332.77,525.05 335.4,515.79 338.04,510.22 340.68,506.32 343.31,503.14 345.95,498.18 348.59,492.41 351.23,485.98 353.86,481.94 356.5,481.68 359.14,483.11 364.41,477.01 369.69,472.8 396.06,448"/>
<path d="M319.58 569.06V570.34M315.28 569.06H323.88M315.28 570.34H323.88M322.22 560.25V562.21M317.92 560.25H326.52M317.92 562.21H326.52M324.85 551.26V553.9M320.55 551.26H329.15M320.55 553.9H329.15M327.49 541.34V544.66M323.19 541.34H331.79M323.19 544.66H331.79M330.13 531.42V535.42M325.83 531.42H334.43M325.83 535.42H334.43M332.77 523.04V527.06M328.47 523.04H337.07M328.47 527.06H337.07M335.4 513.76V517.82M331.1 513.76H339.7M331.1 517.82H339.7M338.04 508.18V512.26M333.74 508.18H342.34M333.74 512.26H342.34M340.68 504.27V508.37M336.38 504.27H344.98M336.38 508.37H344.98M343.31 501.07V505.21M339.01 501.07H347.61M339.01 505.21H347.61M345.95 496.1V500.26M341.65 496.1H350.25M341.65 500.26H350.25M348.59 490.32V494.5M344.29 490.32H352.89M344.29 494.5H352.89M351.23 483.87V488.09M346.93 483.87H355.53M346.93 488.09H355.53M353.86 479.82V484.06M349.56 479.82H358.16M349.56 484.06H358.16M356.5 479.55V483.81M352.2 479.55H360.8M352.2 483.81H360.8M359.14 480.96V485.26M354.84 480.96H363.44M354.84 485.26H363.44M364.41 474.84V479.18M360.11 474.84H368.71M360.11 479.18H368.71M369.69 470.6V475M365.39 470.6H373.99M365.39 475H373.99M396.06 446.5V449.5M391.76 446.5H400.36M391.76 449.5H400.36"/>
</g>
<g fill="#fff" stroke-width="1.85">
<rect x="129.29" y="642.95" width="6.1" height="6.1"/>
<rect x="155.66" y="642.95" width="6.1" height="6.1"/>
<rect x="182.04" y="642.95" width="6.1" height="6.1"/>
<rect x="208.41" y="642.25" width="6.1" height="6.1"/>
<rect x="234.78" y="640.15" width="6.1" height="6.1"/>
<rect x="261.15" y="636.75" width="6.1" height="6.1"/>
<rect x="274.34" y="631.05" width="6.1" height="6.1"/>
<rect x="287.52" y="621.55" width="6.1" height="6.1"/>
<rect x="290.16" y="618.13" width="6.1" height="6.1"/>
<rect x="292.8" y="613.95" width="6.1" height="6.1"/>
<rect x="295.43" y="609.65" width="6.1" height="6.1"/>
<rect x="298.07" y="604.75" width="6.1" height="6.1"/>
<rect x="300.71" y="597.8" width="6.1" height="6.1"/>
<rect x="303.34" y="592.45" width="6.1" height="6.1"/>
<rect x="305.98" y="585.49" width="6.1" height="6.1"/>
<rect x="308.62" y="580.35" width="6.1" height="6.1"/>
<rect x="311.26" y="576.77" width="6.1" height="6.1"/>
<rect x="313.89" y="572.02" width="6.1" height="6.1"/>
<rect x="316.53" y="566.65" width="6.1" height="6.1"/>
<rect x="319.17" y="558.18" width="6.1" height="6.1"/>
<rect x="321.8" y="549.53" width="6.1" height="6.1"/>
<rect x="324.44" y="539.95" width="6.1" height="6.1"/>
<rect x="327.08" y="530.37" width="6.1" height="6.1"/>
<rect x="329.72" y="522" width="6.1" height="6.1"/>
<rect x="332.35" y="512.74" width="6.1" height="6.1"/>
<rect x="334.99" y="507.17" width="6.1" height="6.1"/>
<rect x="337.63" y="503.27" width="6.1" height="6.1"/>
<rect x="340.26" y="500.09" width="6.1" height="6.1"/>
<rect x="342.9" y="495.13" width="6.1" height="6.1"/>
<rect x="345.54" y="489.36" width="6.1" height="6.1"/>
<rect x="348.18" y="482.93" width="6.1" height="6.1"/>
<rect x="350.81" y="478.89" width="6.1" height="6.1"/>
<rect x="353.45" y="478.63" width="6.1" height="6.1"/>
<rect x="356.09" y="480.06" width="6.1" height="6.1"/>
<rect x="361.36" y="473.96" width="6.1" height="6.1"/>
<rect x="366.64" y="469.75" width="6.1" height="6.1"/>
<rect x="393.01" y="444.95" width="6.1" height="6.1"/>
</g></g>
<g stroke="#0000ff" stroke-width="1.9" fill="none">
<g clip-path="url(#clip_cn)">
<polyline stroke-linejoin="round" points="79.6,646 132.34,646 158.71,646 185.09,646 211.46,645.6 237.83,644.5 264.2,641.5 277.39,637.5 290.57,631.8 293.21,630.1 295.85,627.3 298.48,623.9 301.12,619.9 303.76,614.8 306.39,608 309.03,600.7 311.67,592.2 314.31,583.7 316.94,573.6 319.58,561 322.22,548.5 324.85,541 327.49,528.2 330.13,518.3 332.77,507.3 335.4,503.8 338.04,501.8 340.68,499.9 343.31,498 345.95,495.6 348.59,492 351.23,487.7 353.86,486.3 356.5,485.6 359.14,484.6 364.41,477.2 369.69,472.3 396.06,446.8"/>
<path d="M314.31 583.05V584.35M310.01 583.05H318.61M310.01 584.35H318.61M316.94 572.6V574.6M312.64 572.6H321.24M312.64 574.6H321.24M319.58 559.65V562.35M315.28 559.65H323.88M315.28 562.35H323.88M322.22 546.8V550.2M317.92 546.8H326.52M317.92 550.2H326.52M324.85 538.95V543.05M320.55 538.95H329.15M320.55 543.05H329.15M327.49 525.8V530.6M323.19 525.8H331.79M323.19 530.6H331.79M330.13 515.89V520.71M325.83 515.89H334.43M325.83 520.71H334.43M332.77 504.88V509.72M328.47 504.88H337.07M328.47 509.72H337.07M335.4 501.36V506.24M331.1 501.36H339.7M331.1 506.24H339.7M338.04 499.35V504.25M333.74 499.35H342.34M333.74 504.25H342.34M340.68 497.44V502.36M336.38 497.44H344.98M336.38 502.36H344.98M343.31 495.52V500.48M339.01 495.52H347.61M339.01 500.48H347.61M345.95 493.11V498.09M341.65 493.11H350.25M341.65 498.09H350.25M348.59 489.5V494.5M344.29 489.5H352.89M344.29 494.5H352.89M351.23 485.19V490.21M346.93 485.19H355.53M346.93 490.21H355.53M353.86 483.78V488.82M349.56 483.78H358.16M349.56 488.82H358.16M356.5 483.06V488.14M352.2 483.06H360.8M352.2 488.14H360.8M359.14 482.05V487.15M354.84 482.05H363.44M354.84 487.15H363.44M364.41 474.62V479.78M360.11 474.62H368.71M360.11 479.78H368.71M369.69 469.7V474.9M365.39 469.7H373.99M365.39 474.9H373.99M396.06 445V448.6M391.76 445H400.36M391.76 448.6H400.36"/>
</g>
<g fill="#fff" stroke-width="1.85">
<path d="M132.34 642L128.88 648L135.81 648Z"/>
<path d="M158.71 642L155.25 648L162.18 648Z"/>
<path d="M185.09 642L181.62 648L188.55 648Z"/>
<path d="M211.46 641.6L207.99 647.6L214.92 647.6Z"/>
<path d="M237.83 640.5L234.36 646.5L241.29 646.5Z"/>
<path d="M264.2 637.5L260.74 643.5L267.66 643.5Z"/>
<path d="M277.39 633.5L273.92 639.5L280.85 639.5Z"/>
<path d="M290.57 627.8L287.11 633.8L294.04 633.8Z"/>
<path d="M293.21 626.1L289.74 632.1L296.67 632.1Z"/>
<path d="M295.85 623.3L292.38 629.3L299.31 629.3Z"/>
<path d="M298.48 619.9L295.02 625.9L301.95 625.9Z"/>
<path d="M301.12 615.9L297.66 621.9L304.58 621.9Z"/>
<path d="M303.76 610.8L300.29 616.8L307.22 616.8Z"/>
<path d="M306.39 604L302.93 610L309.86 610Z"/>
<path d="M309.03 596.7L305.57 602.7L312.5 602.7Z"/>
<path d="M311.67 588.2L308.2 594.2L315.13 594.2Z"/>
<path d="M314.31 579.7L310.84 585.7L317.77 585.7Z"/>
<path d="M316.94 569.6L313.48 575.6L320.41 575.6Z"/>
<path d="M319.58 557L316.12 563L323.04 563Z"/>
<path d="M322.22 544.5L318.75 550.5L325.68 550.5Z"/>
<path d="M324.85 537L321.39 543L328.32 543Z"/>
<path d="M327.49 524.2L324.03 530.2L330.96 530.2Z"/>
<path d="M330.13 514.3L326.66 520.3L333.59 520.3Z"/>
<path d="M332.77 503.3L329.3 509.3L336.23 509.3Z"/>
<path d="M335.4 499.8L331.94 505.8L338.87 505.8Z"/>
<path d="M338.04 497.8L334.58 503.8L341.5 503.8Z"/>
<path d="M340.68 495.9L337.21 501.9L344.14 501.9Z"/>
<path d="M343.31 494L339.85 500L346.78 500Z"/>
<path d="M345.95 491.6L342.49 497.6L349.42 497.6Z"/>
<path d="M348.59 488L345.12 494L352.05 494Z"/>
<path d="M351.23 483.7L347.76 489.7L354.69 489.7Z"/>
<path d="M353.86 482.3L350.4 488.3L357.33 488.3Z"/>
<path d="M356.5 481.6L353.04 487.6L359.96 487.6Z"/>
<path d="M359.14 480.6L355.67 486.6L362.6 486.6Z"/>
<path d="M364.41 473.2L360.95 479.2L367.88 479.2Z"/>
<path d="M369.69 468.3L366.22 474.3L373.15 474.3Z"/>
<path d="M396.06 442.8L392.59 448.8L399.52 448.8Z"/>
</g></g>
<g stroke="#008b00" stroke-width="1.9" fill="none">
<g clip-path="url(#clip_cphi)">
<polyline stroke-linejoin="round" points="456.2,608.6 508.89,608.4 535.23,608.4 561.57,608.2 587.91,607.5 614.26,604.5 640.6,599 653.77,589.6 666.94,579 669.58,577.5 672.21,576 674.85,574 677.48,572.5 680.11,570.2 682.75,565 685.38,558.9 688.02,554.3 690.65,549.7 693.29,543.7 695.92,539.8 698.55,534.5 701.19,527.9 703.82,521.2 706.46,514.4 709.09,507.5 711.73,500.7 714.36,495 716.99,488.8 719.63,482 722.26,474 724.9,468.4 727.53,461 730.17,453.6 732.8,446.3 735.43,443.4 738.07,436.6 740.7,426.4 743.34,425.3 745.97,424.1 748.61,415.5 751.24,410.3 753.87,411.6 756.51,409.6 759.14,402.9 761.78,401.2 764.41,397.5 767.05,400.8 769.68,394 772.31,391.3 785.49,387.8 798.66,389.3 811.83,384.3 825,383.1"/>
<path d="M640.6 598.64V599.36M636.3 598.64H644.9M636.3 599.36H644.9M653.77 589.21V589.99M649.47 589.21H658.07M649.47 589.99H658.07M666.94 578.57V579.43M662.64 578.57H671.24M662.64 579.43H671.24M669.58 577.06V577.94M665.28 577.06H673.88M665.28 577.94H673.88M672.21 575.56V576.44M667.91 575.56H676.51M667.91 576.44H676.51M674.85 573.55V574.45M670.55 573.55H679.15M670.55 574.45H679.15M677.48 572.04V572.96M673.18 572.04H681.78M673.18 572.96H681.78M680.11 569.74V570.66M675.81 569.74H684.41M675.81 570.66H684.41M682.75 564.53V565.47M678.45 564.53H687.05M678.45 565.47H687.05M685.38 558.42V559.38M681.08 558.42H689.68M681.08 559.38H689.68M688.02 553.81V554.79M683.72 553.81H692.32M683.72 554.79H692.32M690.65 549.21V550.19M686.35 549.21H694.95M686.35 550.19H694.95M693.29 543.2V544.2M688.99 543.2H697.59M688.99 544.2H697.59M695.92 539.25V540.35M691.62 539.25H700.22M691.62 540.35H700.22M698.55 533.9V535.1M694.25 533.9H702.85M694.25 535.1H702.85M701.19 527.25V528.55M696.89 527.25H705.49M696.89 528.55H705.49M703.82 520.5V521.9M699.52 520.5H708.12M699.52 521.9H708.12M706.46 513.65V515.15M702.16 513.65H710.76M702.16 515.15H710.76M709.09 506.7V508.3M704.79 506.7H713.39M704.79 508.3H713.39M711.73 499.85V501.55M707.43 499.85H716.03M707.43 501.55H716.03M714.36 494.1V495.9M710.06 494.1H718.66M710.06 495.9H718.66M716.99 487.85V489.75M712.69 487.85H721.29M712.69 489.75H721.29M719.63 481V483M715.33 481H723.93M715.33 483H723.93M722.26 472.95V475.05M717.96 472.95H726.56M717.96 475.05H726.56M724.9 467.31V469.49M720.6 467.31H729.2M720.6 469.49H729.2M727.53 459.86V462.14M723.23 459.86H731.83M723.23 462.14H731.83M730.17 452.41V454.79M725.87 452.41H734.47M725.87 454.79H734.47M732.8 445.06V447.54M728.5 445.06H737.1M728.5 447.54H737.1M735.43 442.12V444.68M731.13 442.12H739.73M731.13 444.68H739.73M738.07 435.27V437.93M733.77 435.27H742.37M733.77 437.93H742.37M740.7 425.02V427.78M736.4 425.02H745M736.4 427.78H745M743.34 423.88V426.72M739.04 423.88H747.64M739.04 426.72H747.64M745.97 422.63V425.57M741.67 422.63H750.27M741.67 425.57H750.27M748.61 413.98V417.02M744.31 413.98H752.91M744.31 417.02H752.91M751.24 408.74V411.86M746.94 408.74H755.54M746.94 411.86H755.54M753.87 409.99V413.21M749.57 409.99H758.17M749.57 413.21H758.17M756.51 407.94V411.26M752.21 407.94H760.81M752.21 411.26H760.81M759.14 401.19V404.61M754.84 401.19H763.44M754.84 404.61H763.44M761.78 399.45V402.95M757.48 399.45H766.08M757.48 402.95H766.08M764.41 395.7V399.3M760.11 395.7H768.71M760.11 399.3H768.71M767.05 398.67V402.93M762.75 398.67H771.35M762.75 402.93H771.35M769.68 391.53V396.47M765.38 391.53H773.98M765.38 396.47H773.98M772.31 388.5V394.1M768.01 388.5H776.61M768.01 394.1H776.61M785.49 383.8V391.8M781.19 383.8H789.79M781.19 391.8H789.79M798.66 385.2V393.4M794.36 385.2H802.96M794.36 393.4H802.96M811.83 380.1V388.5M807.53 380.1H816.13M807.53 388.5H816.13M825 378.8V387.4M820.7 378.8H829.3M820.7 387.4H829.3"/>
</g>
<g fill="#fff" stroke-width="1.85">
<circle cx="508.89" cy="608.4" r="3.3"/>
<circle cx="535.23" cy="608.4" r="3.3"/>
<circle cx="561.57" cy="608.2" r="3.3"/>
<circle cx="587.91" cy="607.5" r="3.3"/>
<circle cx="614.26" cy="604.5" r="3.3"/>
<circle cx="640.6" cy="599" r="3.3"/>
<circle cx="653.77" cy="589.6" r="3.3"/>
<circle cx="666.94" cy="579" r="3.3"/>
<circle cx="669.58" cy="577.5" r="3.3"/>
<circle cx="672.21" cy="576" r="3.3"/>
<circle cx="674.85" cy="574" r="3.3"/>
<circle cx="677.48" cy="572.5" r="3.3"/>
<circle cx="680.11" cy="570.2" r="3.3"/>
<circle cx="682.75" cy="565" r="3.3"/>
<circle cx="685.38" cy="558.9" r="3.3"/>
<circle cx="688.02" cy="554.3" r="3.3"/>
<circle cx="690.65" cy="549.7" r="3.3"/>
<circle cx="693.29" cy="543.7" r="3.3"/>
<circle cx="695.92" cy="539.8" r="3.3"/>
<circle cx="698.55" cy="534.5" r="3.3"/>
<circle cx="701.19" cy="527.9" r="3.3"/>
<circle cx="703.82" cy="521.2" r="3.3"/>
<circle cx="706.46" cy="514.4" r="3.3"/>
<circle cx="709.09" cy="507.5" r="3.3"/>
<circle cx="711.73" cy="500.7" r="3.3"/>
<circle cx="714.36" cy="495" r="3.3"/>
<circle cx="716.99" cy="488.8" r="3.3"/>
<circle cx="719.63" cy="482" r="3.3"/>
<circle cx="722.26" cy="474" r="3.3"/>
<circle cx="724.9" cy="468.4" r="3.3"/>
<circle cx="727.53" cy="461" r="3.3"/>
<circle cx="730.17" cy="453.6" r="3.3"/>
<circle cx="732.8" cy="446.3" r="3.3"/>
<circle cx="735.43" cy="443.4" r="3.3"/>
<circle cx="738.07" cy="436.6" r="3.3"/>
<circle cx="740.7" cy="426.4" r="3.3"/>
<circle cx="743.34" cy="425.3" r="3.3"/>
<circle cx="745.97" cy="424.1" r="3.3"/>
<circle cx="748.61" cy="415.5" r="3.3"/>
<circle cx="751.24" cy="410.3" r="3.3"/>
<circle cx="753.87" cy="411.6" r="3.3"/>
<circle cx="756.51" cy="409.6" r="3.3"/>
<circle cx="759.14" cy="402.9" r="3.3"/>
<circle cx="761.78" cy="401.2" r="3.3"/>
<circle cx="764.41" cy="397.5" r="3.3"/>
<circle cx="767.05" cy="400.8" r="3.3"/>
<circle cx="769.68" cy="394" r="3.3"/>
<circle cx="772.31" cy="391.3" r="3.3"/>
<circle cx="785.49" cy="387.8" r="3.3"/>
<circle cx="798.66" cy="389.3" r="3.3"/>
<circle cx="811.83" cy="384.3" r="3.3"/>
<circle cx="825" cy="383.1" r="3.3"/>
</g></g>
<g stroke="#ff0000" stroke-width="1.9" fill="none">
<g clip-path="url(#clip_cphi)">
<polyline stroke-linejoin="round" points="456.2,621.6 508.89,620.8 535.23,620.8 561.57,620.6 587.91,619.7 614.26,614.7 640.6,604.5 653.77,593.3 666.94,575.5 669.58,570.2 672.21,563.6 674.85,558.9 677.48,553 680.11,547 682.75,539.8 685.38,533 688.02,526 690.65,518 693.29,511.5 695.92,503 698.55,494.5 701.19,483 703.82,470.5 706.46,460.5 709.09,452.5 711.73,440 714.36,435.5 716.99,423.6 719.63,420.2 722.26,414 724.9,408.2 727.53,401 730.17,396.5 732.8,394.5 735.43,392.8 740.7,390.5 745.97,386 772.31,381.3"/>
<path d="M614.26 614.39V615.01M609.96 614.39H618.56M609.96 615.01H618.56M640.6 604.12V604.88M636.3 604.12H644.9M636.3 604.88H644.9M653.77 592.88V593.72M649.47 592.88H658.07M649.47 593.72H658.07M666.94 575.04V575.96M662.64 575.04H671.24M662.64 575.96H671.24M669.58 569.73V570.67M665.28 569.73H673.88M665.28 570.67H673.88M672.21 563.12V564.08M667.91 563.12H676.51M667.91 564.08H676.51M674.85 558.42V559.38M670.55 558.42H679.15M670.55 559.38H679.15M677.48 552.51V553.49M673.18 552.51H681.78M673.18 553.49H681.78M680.11 546.5V547.5M675.81 546.5H684.41M675.81 547.5H684.41M682.75 539.09V540.51M678.45 539.09H687.05M678.45 540.51H687.05M685.38 532.08V533.92M681.08 532.08H689.68M681.08 533.92H689.68M688.02 524.87V527.13M683.72 524.87H692.32M683.72 527.13H692.32M690.65 516.66V519.34M686.35 516.66H694.95M686.35 519.34H694.95M693.29 509.95V513.05M688.99 509.95H697.59M688.99 513.05H697.59M695.92 501.24V504.76M691.62 501.24H700.22M691.62 504.76H700.22M698.55 492.53V496.47M694.25 492.53H702.85M694.25 496.47H702.85M701.19 480.82V485.18M696.89 480.82H705.49M696.89 485.18H705.49M703.82 468.11V472.89M699.52 468.11H708.12M699.52 472.89H708.12M706.46 457.9V463.1M702.16 457.9H710.76M702.16 463.1H710.76M709.09 449.88V455.12M704.79 449.88H713.39M704.79 455.12H713.39M711.73 437.36V442.64M707.43 437.36H716.03M707.43 442.64H716.03M714.36 432.84V438.16M710.06 432.84H718.66M710.06 438.16H718.66M716.99 420.92V426.28M712.69 420.92H721.29M712.69 426.28H721.29M719.63 417.5V422.9M715.33 417.5H723.93M715.33 422.9H723.93M722.26 411.28V416.72M717.96 411.28H726.56M717.96 416.72H726.56M724.9 405.46V410.94M720.6 405.46H729.2M720.6 410.94H729.2M727.53 398.24V403.76M723.23 398.24H731.83M723.23 403.76H731.83M730.17 393.72V399.28M725.87 393.72H734.47M725.87 399.28H734.47M732.8 391.7V397.3M728.5 391.7H737.1M728.5 397.3H737.1M735.43 389.98V395.62M731.13 389.98H739.73M731.13 395.62H739.73M740.7 387.64V393.36M736.4 387.64H745M736.4 393.36H745M745.97 383.1V388.9M741.67 383.1H750.27M741.67 388.9H750.27M772.31 379V383.6M768.01 379H776.61M768.01 383.6H776.61"/>
</g>
<g fill="#fff" stroke-width="1.85">
<path d="M505.19 620.8L508.89 617.1L512.59 620.8L508.89 624.5Z"/>
<path d="M531.53 620.8L535.23 617.1L538.93 620.8L535.23 624.5Z"/>
<path d="M557.87 620.6L561.57 616.9L565.27 620.6L561.57 624.3Z"/>
<path d="M584.21 619.7L587.91 616L591.61 619.7L587.91 623.4Z"/>
<path d="M610.56 614.7L614.26 611L617.96 614.7L614.26 618.4Z"/>
<path d="M636.9 604.5L640.6 600.8L644.3 604.5L640.6 608.2Z"/>
<path d="M650.07 593.3L653.77 589.6L657.47 593.3L653.77 597Z"/>
<path d="M663.24 575.5L666.94 571.8L670.64 575.5L666.94 579.2Z"/>
<path d="M665.88 570.2L669.58 566.5L673.28 570.2L669.58 573.9Z"/>
<path d="M668.51 563.6L672.21 559.9L675.91 563.6L672.21 567.3Z"/>
<path d="M671.15 558.9L674.85 555.2L678.55 558.9L674.85 562.6Z"/>
<path d="M673.78 553L677.48 549.3L681.18 553L677.48 556.7Z"/>
<path d="M676.41 547L680.11 543.3L683.81 547L680.11 550.7Z"/>
<path d="M679.05 539.8L682.75 536.1L686.45 539.8L682.75 543.5Z"/>
<path d="M681.68 533L685.38 529.3L689.08 533L685.38 536.7Z"/>
<path d="M684.32 526L688.02 522.3L691.72 526L688.02 529.7Z"/>
<path d="M686.95 518L690.65 514.3L694.35 518L690.65 521.7Z"/>
<path d="M689.59 511.5L693.29 507.8L696.99 511.5L693.29 515.2Z"/>
<path d="M692.22 503L695.92 499.3L699.62 503L695.92 506.7Z"/>
<path d="M694.85 494.5L698.55 490.8L702.25 494.5L698.55 498.2Z"/>
<path d="M697.49 483L701.19 479.3L704.89 483L701.19 486.7Z"/>
<path d="M700.12 470.5L703.82 466.8L707.52 470.5L703.82 474.2Z"/>
<path d="M702.76 460.5L706.46 456.8L710.16 460.5L706.46 464.2Z"/>
<path d="M705.39 452.5L709.09 448.8L712.79 452.5L709.09 456.2Z"/>
<path d="M708.03 440L711.73 436.3L715.43 440L711.73 443.7Z"/>
<path d="M710.66 435.5L714.36 431.8L718.06 435.5L714.36 439.2Z"/>
<path d="M713.29 423.6L716.99 419.9L720.69 423.6L716.99 427.3Z"/>
<path d="M715.93 420.2L719.63 416.5L723.33 420.2L719.63 423.9Z"/>
<path d="M718.56 414L722.26 410.3L725.96 414L722.26 417.7Z"/>
<path d="M721.2 408.2L724.9 404.5L728.6 408.2L724.9 411.9Z"/>
<path d="M723.83 401L727.53 397.3L731.23 401L727.53 404.7Z"/>
<path d="M726.47 396.5L730.17 392.8L733.87 396.5L730.17 400.2Z"/>
<path d="M729.1 394.5L732.8 390.8L736.5 394.5L732.8 398.2Z"/>
<path d="M731.73 392.8L735.43 389.1L739.13 392.8L735.43 396.5Z"/>
<path d="M737 390.5L740.7 386.8L744.4 390.5L740.7 394.2Z"/>
<path d="M742.27 386L745.97 382.3L749.67 386L745.97 389.7Z"/>
<path d="M768.61 381.3L772.31 377.6L776.01 381.3L772.31 385Z"/>
</g></g>
<g stroke="#9400d3" stroke-width="1.9" fill="none">
<g clip-path="url(#clip_cphi)">
<polyline stroke-linejoin="round" points="456.2,625.6 508.89,625.1 535.23,625.1 561.57,625 587.91,624 614.26,621.2 640.6,614.3 653.77,604.6 666.94,586.7 669.58,582.1 672.21,575.5 674.85,568.9 677.48,563.6 680.11,552 682.75,545.5 685.38,531 688.02,520.6 690.65,507.5 693.29,497.3 695.92,484.2 698.55,468.4 701.19,454.8 703.82,444.6 706.46,429.8 709.09,415.7 711.73,410.4 714.36,402.6 716.99,396.5 719.63,391.8 722.26,393.5 724.9,397.2 727.53,380.2 730.17,376.7 732.8,375.7 735.43,378.7 740.7,381.1 745.97,381.1 772.31,381.1"/>
<path d="M614.26 620.89V621.51M609.96 620.89H618.56M609.96 621.51H618.56M640.6 613.92V614.68M636.3 613.92H644.9M636.3 614.68H644.9M653.77 604.18V605.02M649.47 604.18H658.07M649.47 605.02H658.07M666.94 586.24V587.16M662.64 586.24H671.24M662.64 587.16H671.24M669.58 581.63V582.57M665.28 581.63H673.88M665.28 582.57H673.88M672.21 575.02V575.98M667.91 575.02H676.51M667.91 575.98H676.51M674.85 568.42V569.38M670.55 568.42H679.15M670.55 569.38H679.15M677.48 563.11V564.09M673.18 563.11H681.78M673.18 564.09H681.78M680.11 551.5V552.5M675.81 551.5H684.41M675.81 552.5H684.41M682.75 544.77V546.23M678.45 544.77H687.05M678.45 546.23H687.05M685.38 530.04V531.96M681.08 530.04H689.68M681.08 531.96H689.68M688.02 519.41V521.79M683.72 519.41H692.32M683.72 521.79H692.32M690.65 506.08V508.92M686.35 506.08H694.95M686.35 508.92H694.95M693.29 495.65V498.95M688.99 495.65H697.59M688.99 498.95H697.59M695.92 482.32V486.08M691.62 482.32H700.22M691.62 486.08H700.22M698.55 466.29V470.51M694.25 466.29H702.85M694.25 470.51H702.85M701.19 452.46V457.14M696.89 452.46H705.49M696.89 457.14H705.49M703.82 442.03V447.17M699.52 442.03H708.12M699.52 447.17H708.12M706.46 427V432.6M702.16 427H710.76M702.16 432.6H710.76M709.09 412.87V418.53M704.79 412.87H713.39M704.79 418.53H713.39M711.73 407.55V413.25M707.43 407.55H716.03M707.43 413.25H716.03M714.36 399.72V405.48M710.06 399.72H718.66M710.06 405.48H718.66M716.99 393.59V399.41M712.69 393.59H721.29M712.69 399.41H721.29M719.63 388.87V394.73M715.33 388.87H723.93M715.33 394.73H723.93M722.26 390.54V396.46M717.96 390.54H726.56M717.96 396.46H726.56M724.9 394.21V400.19M720.6 394.21H729.2M720.6 400.19H729.2M727.53 377.19V383.21M723.23 377.19H731.83M723.23 383.21H731.83M730.17 373.66V379.74M725.87 373.66H734.47M725.87 379.74H734.47M732.8 372.63V378.77M728.5 372.63H737.1M728.5 378.77H737.1M735.43 375.61V381.79M731.13 375.61H739.73M731.13 381.79H739.73M740.7 377.95V384.25M736.4 377.95H745M736.4 384.25H745M745.97 377.9V384.3M741.67 377.9H750.27M741.67 384.3H750.27M772.31 378.5V383.7M768.01 378.5H776.61M768.01 383.7H776.61"/>
</g>
<g fill="#fff" stroke-width="1.85">
<rect x="505.84" y="622.05" width="6.1" height="6.1"/>
<rect x="532.18" y="622.05" width="6.1" height="6.1"/>
<rect x="558.52" y="621.95" width="6.1" height="6.1"/>
<rect x="584.86" y="620.95" width="6.1" height="6.1"/>
<rect x="611.21" y="618.15" width="6.1" height="6.1"/>
<rect x="637.55" y="611.25" width="6.1" height="6.1"/>
<rect x="650.72" y="601.55" width="6.1" height="6.1"/>
<rect x="663.89" y="583.65" width="6.1" height="6.1"/>
<rect x="666.53" y="579.05" width="6.1" height="6.1"/>
<rect x="669.16" y="572.45" width="6.1" height="6.1"/>
<rect x="671.8" y="565.85" width="6.1" height="6.1"/>
<rect x="674.43" y="560.55" width="6.1" height="6.1"/>
<rect x="677.06" y="548.95" width="6.1" height="6.1"/>
<rect x="679.7" y="542.45" width="6.1" height="6.1"/>
<rect x="682.33" y="527.95" width="6.1" height="6.1"/>
<rect x="684.97" y="517.55" width="6.1" height="6.1"/>
<rect x="687.6" y="504.45" width="6.1" height="6.1"/>
<rect x="690.24" y="494.25" width="6.1" height="6.1"/>
<rect x="692.87" y="481.15" width="6.1" height="6.1"/>
<rect x="695.5" y="465.35" width="6.1" height="6.1"/>
<rect x="698.14" y="451.75" width="6.1" height="6.1"/>
<rect x="700.77" y="441.55" width="6.1" height="6.1"/>
<rect x="703.41" y="426.75" width="6.1" height="6.1"/>
<rect x="706.04" y="412.65" width="6.1" height="6.1"/>
<rect x="708.68" y="407.35" width="6.1" height="6.1"/>
<rect x="711.31" y="399.55" width="6.1" height="6.1"/>
<rect x="713.94" y="393.45" width="6.1" height="6.1"/>
<rect x="716.58" y="388.75" width="6.1" height="6.1"/>
<rect x="719.21" y="390.45" width="6.1" height="6.1"/>
<rect x="721.85" y="394.15" width="6.1" height="6.1"/>
<rect x="724.48" y="377.15" width="6.1" height="6.1"/>
<rect x="727.12" y="373.65" width="6.1" height="6.1"/>
<rect x="729.75" y="372.65" width="6.1" height="6.1"/>
<rect x="732.38" y="375.65" width="6.1" height="6.1"/>
<rect x="737.65" y="378.05" width="6.1" height="6.1"/>
<rect x="742.92" y="378.05" width="6.1" height="6.1"/>
<rect x="769.26" y="378.05" width="6.1" height="6.1"/>
</g></g>
<g stroke="#0000ff" stroke-width="1.9" fill="none">
<g clip-path="url(#clip_cphi)">
<polyline stroke-linejoin="round" points="456.2,627.1 508.89,626.9 535.23,626.9 561.57,626.8 587.91,626.2 614.26,624 640.6,619.2 653.77,611.2 666.94,598 669.58,594 672.21,588 674.85,581.4 677.48,576.1 680.11,565.6 682.75,553.7 685.38,539.8 688.02,524.2 690.65,511.3 693.29,488.2 695.92,469.5 698.55,449.1 701.19,437.8 703.82,416 706.46,402.1 709.09,382.6 711.73,387.5 714.36,381.5 716.99,383.3 719.63,380.1 722.26,381.2 724.9,382.3 727.53,377.2 730.17,380.6 732.8,382.6 735.43,385.5 740.7,380.6 745.97,380.1 772.31,378.7"/>
<path d="M614.26 623.69V624.31M609.96 623.69H618.56M609.96 624.31H618.56M640.6 618.82V619.58M636.3 618.82H644.9M636.3 619.58H644.9M653.77 610.78V611.62M649.47 610.78H658.07M649.47 611.62H658.07M666.94 597.54V598.46M662.64 597.54H671.24M662.64 598.46H671.24M669.58 593.53V594.47M665.28 593.53H673.88M665.28 594.47H673.88M672.21 587.52V588.48M667.91 587.52H676.51M667.91 588.48H676.51M674.85 580.92V581.88M670.55 580.92H679.15M670.55 581.88H679.15M677.48 575.61V576.59M673.18 575.61H681.78M673.18 576.59H681.78M680.11 565.1V566.1M675.81 565.1H684.41M675.81 566.1H684.41M682.75 552.96V554.44M678.45 552.96H687.05M678.45 554.44H687.05M685.38 538.81V540.79M681.08 538.81H689.68M681.08 540.79H689.68M688.02 522.97V525.43M683.72 522.97H692.32M683.72 525.43H692.32M690.65 509.83V512.77M686.35 509.83H694.95M686.35 512.77H694.95M693.29 486.49V489.91M688.99 486.49H697.59M688.99 489.91H697.59M695.92 467.54V471.46M691.62 467.54H700.22M691.62 471.46H700.22M698.55 446.9V451.3M694.25 446.9H702.85M694.25 451.3H702.85M701.19 435.37V440.23M696.89 435.37H705.49M696.89 440.23H705.49M703.82 413.35V418.65M699.52 413.35H708.12M699.52 418.65H708.12M706.46 399.22V404.98M702.16 399.22H710.76M702.16 404.98H710.76M709.09 379.5V385.7M704.79 379.5H713.39M704.79 385.7H713.39M711.73 384.39V390.61M707.43 384.39H716.03M707.43 390.61H716.03M714.36 378.39V384.61M710.06 378.39H718.66M710.06 384.61H718.66M716.99 380.18V386.42M712.69 380.18H721.29M712.69 386.42H721.29M719.63 376.97V383.23M715.33 376.97H723.93M715.33 383.23H723.93M722.26 378.06V384.34M717.96 378.06H726.56M717.96 384.34H726.56M724.9 379.16V385.44M720.6 379.16H729.2M720.6 385.44H729.2M727.53 374.05V380.35M723.23 374.05H731.83M723.23 380.35H731.83M730.17 377.44V383.76M725.87 377.44H734.47M725.87 383.76H734.47M732.8 379.44V385.76M728.5 379.44H737.1M728.5 385.76H737.1M735.43 382.33V388.67M731.13 382.33H739.73M731.13 388.67H739.73M740.7 377.41V383.79M736.4 377.41H745M736.4 383.79H745M745.97 376.9V383.3M741.67 376.9H750.27M741.67 383.3H750.27M772.31 376.1V381.3M768.01 376.1H776.61M768.01 381.3H776.61"/>
</g>
<g fill="#fff" stroke-width="1.85">
<path d="M508.89 622.9L505.42 628.9L512.35 628.9Z"/>
<path d="M535.23 622.9L531.76 628.9L538.69 628.9Z"/>
<path d="M561.57 622.8L558.11 628.8L565.04 628.8Z"/>
<path d="M587.91 622.2L584.45 628.2L591.38 628.2Z"/>
<path d="M614.26 620L610.79 626L617.72 626Z"/>
<path d="M640.6 615.2L637.14 621.2L644.06 621.2Z"/>
<path d="M653.77 607.2L650.31 613.2L657.24 613.2Z"/>
<path d="M666.94 594L663.48 600L670.41 600Z"/>
<path d="M669.58 590L666.11 596L673.04 596Z"/>
<path d="M672.21 584L668.75 590L675.68 590Z"/>
<path d="M674.85 577.4L671.38 583.4L678.31 583.4Z"/>
<path d="M677.48 572.1L674.02 578.1L680.94 578.1Z"/>
<path d="M680.11 561.6L676.65 567.6L683.58 567.6Z"/>
<path d="M682.75 549.7L679.28 555.7L686.21 555.7Z"/>
<path d="M685.38 535.8L681.92 541.8L688.85 541.8Z"/>
<path d="M688.02 520.2L684.55 526.2L691.48 526.2Z"/>
<path d="M690.65 507.3L687.19 513.3L694.12 513.3Z"/>
<path d="M693.29 484.2L689.82 490.2L696.75 490.2Z"/>
<path d="M695.92 465.5L692.46 471.5L699.38 471.5Z"/>
<path d="M698.55 445.1L695.09 451.1L702.02 451.1Z"/>
<path d="M701.19 433.8L697.72 439.8L704.65 439.8Z"/>
<path d="M703.82 412L700.36 418L707.29 418Z"/>
<path d="M706.46 398.1L702.99 404.1L709.92 404.1Z"/>
<path d="M709.09 378.6L705.63 384.6L712.56 384.6Z"/>
<path d="M711.73 383.5L708.26 389.5L715.19 389.5Z"/>
<path d="M714.36 377.5L710.9 383.5L717.82 383.5Z"/>
<path d="M716.99 379.3L713.53 385.3L720.46 385.3Z"/>
<path d="M719.63 376.1L716.16 382.1L723.09 382.1Z"/>
<path d="M722.26 377.2L718.8 383.2L725.73 383.2Z"/>
<path d="M724.9 378.3L721.43 384.3L728.36 384.3Z"/>
<path d="M727.53 373.2L724.07 379.2L731 379.2Z"/>
<path d="M730.17 376.6L726.7 382.6L733.63 382.6Z"/>
<path d="M732.8 378.6L729.34 384.6L736.26 384.6Z"/>
<path d="M735.43 381.5L731.97 387.5L738.9 387.5Z"/>
<path d="M740.7 376.6L737.24 382.6L744.17 382.6Z"/>
<path d="M745.97 376.1L742.51 382.1L749.44 382.1Z"/>
<path d="M772.31 374.7L768.85 380.7L775.78 380.7Z"/>
</g></g>
<g stroke="#008b00" stroke-width="1.9" fill="none">
<g clip-path="url(#clip_dn)">
<polyline stroke-linejoin="round" points="79.6,969.6 132.34,969.6 158.71,969.5 185.09,969.2 211.46,968.4 237.83,965.5 264.2,954.5 277.39,942.5 290.57,931.5 293.21,929.5 295.85,925.5 298.48,922.5 301.12,919 303.76,915.6 306.39,910.5 309.03,905.9 311.67,902 314.31,897.4 316.94,892.9 319.58,887.8 322.22,881.5 324.85,880.8 327.49,875.5 330.13,868.2 332.77,865.7 335.4,864 338.04,861 340.68,861.5 343.31,858.5 345.95,859.5 348.59,856 351.23,856.8 353.86,854 356.5,858.7 359.14,857.8 361.77,861.5 364.41,859.2 367.05,867.2 369.69,872.9 372.32,873.8 374.96,876.2 377.6,884.2 380.23,888 382.87,888 385.51,894.6 388.15,895.5 390.78,899.5 393.42,902.3 396.06,905.5 409.24,910.3 422.43,925.5 435.61,933.2 448.8,922.6"/>
<path d="M237.83 965.17V965.83M233.53 965.17H242.13M233.53 965.83H242.13M264.2 954.08V954.92M259.9 954.08H268.5M259.9 954.92H268.5M277.39 942.04V942.96M273.09 942.04H281.69M273.09 942.96H281.69M290.57 931V932M286.27 931H294.87M286.27 932H294.87M293.21 928.95V930.05M288.91 928.95H297.51M288.91 930.05H297.51M295.85 924.9V926.1M291.55 924.9H300.15M291.55 926.1H300.15M298.48 921.85V923.15M294.18 921.85H302.78M294.18 923.15H302.78M301.12 918.3V919.7M296.82 918.3H305.42M296.82 919.7H305.42M303.76 914.85V916.35M299.46 914.85H308.06M299.46 916.35H308.06M306.39 909.7V911.3M302.09 909.7H310.69M302.09 911.3H310.69M309.03 905.05V906.75M304.73 905.05H313.33M304.73 906.75H313.33M311.67 901.1V902.9M307.37 901.1H315.97M307.37 902.9H315.97M314.31 896.45V898.35M310.01 896.45H318.61M310.01 898.35H318.61M316.94 891.9V893.9M312.64 891.9H321.24M312.64 893.9H321.24M319.58 886.75V888.85M315.28 886.75H323.88M315.28 888.85H323.88M322.22 880.4V882.6M317.92 880.4H326.52M317.92 882.6H326.52M324.85 879.65V881.95M320.55 879.65H329.15M320.55 881.95H329.15M327.49 874.3V876.7M323.19 874.3H331.79M323.19 876.7H331.79M330.13 866.95V869.45M325.83 866.95H334.43M325.83 869.45H334.43M332.77 864.4V867M328.47 864.4H337.07M328.47 867H337.07M335.4 862.65V865.35M331.1 862.65H339.7M331.1 865.35H339.7M338.04 859.6V862.4M333.74 859.6H342.34M333.74 862.4H342.34M340.68 860.05V862.95M336.38 860.05H344.98M336.38 862.95H344.98M343.31 857V860M339.01 857H347.61M339.01 860H347.61M345.95 857.96V861.04M341.65 857.96H350.25M341.65 861.04H350.25M348.59 854.43V857.57M344.29 854.43H352.89M344.29 857.57H352.89M351.23 855.19V858.41M346.93 855.19H355.53M346.93 858.41H355.53M353.86 852.35V855.65M349.56 852.35H358.16M349.56 855.65H358.16M356.5 857.02V860.38M352.2 857.02H360.8M352.2 860.38H360.8M359.14 856.08V859.52M354.84 856.08H363.44M354.84 859.52H363.44M361.77 859.74V863.26M357.47 859.74H366.07M357.47 863.26H366.07M364.41 857.41V860.99M360.11 857.41H368.71M360.11 860.99H368.71M367.05 865.37V869.03M362.75 865.37H371.35M362.75 869.03H371.35M369.69 871.03V874.77M365.39 871.03H373.99M365.39 874.77H373.99M372.32 871.89V875.71M368.02 871.89H376.62M368.02 875.71H376.62M374.96 874.26V878.14M370.66 874.26H379.26M370.66 878.14H379.26M377.6 882.22V886.18M373.3 882.22H381.9M373.3 886.18H381.9M380.23 885.98V890.02M375.93 885.98H384.53M375.93 890.02H384.53M382.87 885.95V890.05M378.57 885.95H387.17M378.57 890.05H387.17M385.51 892.51V896.69M381.21 892.51H389.81M381.21 896.69H389.81M388.15 893.37V897.63M383.85 893.37H392.45M383.85 897.63H392.45M390.78 897.34V901.66M386.48 897.34H395.08M386.48 901.66H395.08M393.42 900.1V904.5M389.12 900.1H397.72M389.12 904.5H397.72M396.06 902.5V908.5M391.76 902.5H400.36M391.76 908.5H400.36M409.24 904.6V916M404.94 904.6H413.54M404.94 916H413.54M422.43 919.43V931.57M418.13 919.43H426.73M418.13 931.57H426.73M435.61 926.77V939.63M431.31 926.77H439.91M431.31 939.63H439.91M448.8 915.8V929.4M444.5 915.8H453.1M444.5 929.4H453.1"/>
</g>
<g fill="#fff" stroke-width="1.85">
<circle cx="132.34" cy="969.6" r="3.3"/>
<circle cx="158.71" cy="969.5" r="3.3"/>
<circle cx="185.09" cy="969.2" r="3.3"/>
<circle cx="211.46" cy="968.4" r="3.3"/>
<circle cx="237.83" cy="965.5" r="3.3"/>
<circle cx="264.2" cy="954.5" r="3.3"/>
<circle cx="277.39" cy="942.5" r="3.3"/>
<circle cx="290.57" cy="931.5" r="3.3"/>
<circle cx="293.21" cy="929.5" r="3.3"/>
<circle cx="295.85" cy="925.5" r="3.3"/>
<circle cx="298.48" cy="922.5" r="3.3"/>
<circle cx="301.12" cy="919" r="3.3"/>
<circle cx="303.76" cy="915.6" r="3.3"/>
<circle cx="306.39" cy="910.5" r="3.3"/>
<circle cx="309.03" cy="905.9" r="3.3"/>
<circle cx="311.67" cy="902" r="3.3"/>
<circle cx="314.31" cy="897.4" r="3.3"/>
<circle cx="316.94" cy="892.9" r="3.3"/>
<circle cx="319.58" cy="887.8" r="3.3"/>
<circle cx="322.22" cy="881.5" r="3.3"/>
<circle cx="324.85" cy="880.8" r="3.3"/>
<circle cx="327.49" cy="875.5" r="3.3"/>
<circle cx="330.13" cy="868.2" r="3.3"/>
<circle cx="332.77" cy="865.7" r="3.3"/>
<circle cx="335.4" cy="864" r="3.3"/>
<circle cx="338.04" cy="861" r="3.3"/>
<circle cx="340.68" cy="861.5" r="3.3"/>
<circle cx="343.31" cy="858.5" r="3.3"/>
<circle cx="345.95" cy="859.5" r="3.3"/>
<circle cx="348.59" cy="856" r="3.3"/>
<circle cx="351.23" cy="856.8" r="3.3"/>
<circle cx="353.86" cy="854" r="3.3"/>
<circle cx="356.5" cy="858.7" r="3.3"/>
<circle cx="359.14" cy="857.8" r="3.3"/>
<circle cx="361.77" cy="861.5" r="3.3"/>
<circle cx="364.41" cy="859.2" r="3.3"/>
<circle cx="367.05" cy="867.2" r="3.3"/>
<circle cx="369.69" cy="872.9" r="3.3"/>
<circle cx="372.32" cy="873.8" r="3.3"/>
<circle cx="374.96" cy="876.2" r="3.3"/>
<circle cx="377.6" cy="884.2" r="3.3"/>
<circle cx="380.23" cy="888" r="3.3"/>
<circle cx="382.87" cy="888" r="3.3"/>
<circle cx="385.51" cy="894.6" r="3.3"/>
<circle cx="388.15" cy="895.5" r="3.3"/>
<circle cx="390.78" cy="899.5" r="3.3"/>
<circle cx="393.42" cy="902.3" r="3.3"/>
<circle cx="396.06" cy="905.5" r="3.3"/>
<circle cx="409.24" cy="910.3" r="3.3"/>
<circle cx="422.43" cy="925.5" r="3.3"/>
<circle cx="435.61" cy="933.2" r="3.3"/>
<circle cx="448.8" cy="922.6" r="3.3"/>
</g></g>
<g stroke="#ff0000" stroke-width="1.9" fill="none">
<g clip-path="url(#clip_dn)">
<polyline stroke-linejoin="round" points="79.6,969.6 132.34,969.6 158.71,969.4 185.09,968.8 211.46,967.2 237.83,962.5 264.2,950.7 277.39,939.4 290.57,921 293.21,917 295.85,912 298.48,907 301.12,901 303.76,896.3 306.39,890 309.03,883.8 311.67,871 314.31,866 316.94,860.6 319.58,856 322.22,848 324.85,841.7 327.49,836.4 330.13,833.5 332.77,835.5 335.4,834.5 338.04,839.5 340.68,844.6 343.31,851.2 345.95,855.9 348.59,866.3 351.23,871.5 353.86,876.7 356.5,884.2 359.14,890.8 364.41,901.2 369.69,920.8 396.06,925.7"/>
<path d="M237.83 962.14V962.86M233.53 962.14H242.13M233.53 962.86H242.13M264.2 950.25V951.15M259.9 950.25H268.5M259.9 951.15H268.5M277.39 938.9V939.9M273.09 938.9H281.69M273.09 939.9H281.69M290.57 918.95V923.05M286.27 918.95H294.87M286.27 923.05H294.87M293.21 914.64V919.36M288.91 914.64H297.51M288.91 919.36H297.51M295.85 909.33V914.67M291.55 909.33H300.15M291.55 914.67H300.15M298.48 904.02V909.98M294.18 904.02H302.78M294.18 909.98H302.78M301.12 897.71V904.29M296.82 897.71H305.42M296.82 904.29H305.42M303.76 892.7V899.9M299.46 892.7H308.06M299.46 899.9H308.06M306.39 886.37V893.63M302.09 886.37H310.69M302.09 893.63H310.69M309.03 880.15V887.45M304.73 880.15H313.33M304.73 887.45H313.33M311.67 867.32V874.68M307.37 867.32H315.97M307.37 874.68H315.97M314.31 862.29V869.71M310.01 862.29H318.61M310.01 869.71H318.61M316.94 856.87V864.33M312.64 856.87H321.24M312.64 864.33H321.24M319.58 852.24V859.76M315.28 852.24H323.88M315.28 859.76H323.88M322.22 844.21V851.79M317.92 844.21H326.52M317.92 851.79H326.52M324.85 837.89V845.51M320.55 837.89H329.15M320.55 845.51H329.15M327.49 832.56V840.24M323.19 832.56H331.79M323.19 840.24H331.79M330.13 829.63V837.37M325.83 829.63H334.43M325.83 837.37H334.43M332.77 831.61V839.39M328.47 831.61H337.07M328.47 839.39H337.07M335.4 830.58V838.42M331.1 830.58H339.7M331.1 838.42H339.7M338.04 835.55V843.45M333.74 835.55H342.34M333.74 843.45H342.34M340.68 840.63V848.57M336.38 840.63H344.98M336.38 848.57H344.98M343.31 847.2V855.2M339.01 847.2H347.61M339.01 855.2H347.61M345.95 851.84V859.96M341.65 851.84H350.25M341.65 859.96H350.25M348.59 862.18V870.42M344.29 862.18H352.89M344.29 870.42H352.89M351.23 867.31V875.69M346.93 867.31H355.53M346.93 875.69H355.53M353.86 872.45V880.95M349.56 872.45H358.16M349.56 880.95H358.16M356.5 879.89V888.51M352.2 879.89H360.8M352.2 888.51H360.8M359.14 886.42V895.18M354.84 886.42H363.44M354.84 895.18H363.44M364.41 896.7V905.7M360.11 896.7H368.71M360.11 905.7H368.71M369.69 914.3V927.3M365.39 914.3H373.99M365.39 927.3H373.99M396.06 916.3V935.1M391.76 916.3H400.36M391.76 935.1H400.36"/>
</g>
<g fill="#fff" stroke-width="1.85">
<path d="M128.64 969.6L132.34 965.9L136.04 969.6L132.34 973.3Z"/>
<path d="M155.01 969.4L158.71 965.7L162.41 969.4L158.71 973.1Z"/>
<path d="M181.39 968.8L185.09 965.1L188.79 968.8L185.09 972.5Z"/>
<path d="M207.76 967.2L211.46 963.5L215.16 967.2L211.46 970.9Z"/>
<path d="M234.13 962.5L237.83 958.8L241.53 962.5L237.83 966.2Z"/>
<path d="M260.5 950.7L264.2 947L267.9 950.7L264.2 954.4Z"/>
<path d="M273.69 939.4L277.39 935.7L281.09 939.4L277.39 943.1Z"/>
<path d="M286.87 921L290.57 917.3L294.27 921L290.57 924.7Z"/>
<path d="M289.51 917L293.21 913.3L296.91 917L293.21 920.7Z"/>
<path d="M292.15 912L295.85 908.3L299.55 912L295.85 915.7Z"/>
<path d="M294.78 907L298.48 903.3L302.18 907L298.48 910.7Z"/>
<path d="M297.42 901L301.12 897.3L304.82 901L301.12 904.7Z"/>
<path d="M300.06 896.3L303.76 892.6L307.46 896.3L303.76 900Z"/>
<path d="M302.69 890L306.39 886.3L310.09 890L306.39 893.7Z"/>
<path d="M305.33 883.8L309.03 880.1L312.73 883.8L309.03 887.5Z"/>
<path d="M307.97 871L311.67 867.3L315.37 871L311.67 874.7Z"/>
<path d="M310.61 866L314.31 862.3L318.01 866L314.31 869.7Z"/>
<path d="M313.24 860.6L316.94 856.9L320.64 860.6L316.94 864.3Z"/>
<path d="M315.88 856L319.58 852.3L323.28 856L319.58 859.7Z"/>
<path d="M318.52 848L322.22 844.3L325.92 848L322.22 851.7Z"/>
<path d="M321.15 841.7L324.85 838L328.55 841.7L324.85 845.4Z"/>
<path d="M323.79 836.4L327.49 832.7L331.19 836.4L327.49 840.1Z"/>
<path d="M326.43 833.5L330.13 829.8L333.83 833.5L330.13 837.2Z"/>
<path d="M329.07 835.5L332.77 831.8L336.47 835.5L332.77 839.2Z"/>
<path d="M331.7 834.5L335.4 830.8L339.1 834.5L335.4 838.2Z"/>
<path d="M334.34 839.5L338.04 835.8L341.74 839.5L338.04 843.2Z"/>
<path d="M336.98 844.6L340.68 840.9L344.38 844.6L340.68 848.3Z"/>
<path d="M339.61 851.2L343.31 847.5L347.01 851.2L343.31 854.9Z"/>
<path d="M342.25 855.9L345.95 852.2L349.65 855.9L345.95 859.6Z"/>
<path d="M344.89 866.3L348.59 862.6L352.29 866.3L348.59 870Z"/>
<path d="M347.53 871.5L351.23 867.8L354.93 871.5L351.23 875.2Z"/>
<path d="M350.16 876.7L353.86 873L357.56 876.7L353.86 880.4Z"/>
<path d="M352.8 884.2L356.5 880.5L360.2 884.2L356.5 887.9Z"/>
<path d="M355.44 890.8L359.14 887.1L362.84 890.8L359.14 894.5Z"/>
<path d="M360.71 901.2L364.41 897.5L368.11 901.2L364.41 904.9Z"/>
<path d="M365.99 920.8L369.69 917.1L373.39 920.8L369.69 924.5Z"/>
<path d="M392.36 925.7L396.06 922L399.76 925.7L396.06 929.4Z"/>
</g></g>
<g stroke="#9400d3" stroke-width="1.9" fill="none">
<g clip-path="url(#clip_dn)">
<polyline stroke-linejoin="round" points="79.6,969.6 132.34,969.6 158.71,969.4 185.09,969 211.46,967.8 237.83,964.5 264.2,956.4 277.39,944.5 290.57,920 293.21,913 295.85,904.2 298.48,896 301.12,886 303.76,876.5 306.39,864.5 309.03,852 311.67,838.4 314.31,828 316.94,819.2 319.58,812.6 322.22,806 324.85,802 327.49,799.4 330.13,802 332.77,812.6 335.4,821.9 338.04,836.4 340.68,856 343.31,874 345.95,880.4 348.59,900.5 351.23,921 353.86,937.3 356.5,914.8 359.14,930.5 364.41,922 369.69,949.9 396.06,910.9"/>
<path d="M237.83 964.14V964.86M233.53 964.14H242.13M233.53 964.86H242.13M264.2 955.95V956.85M259.9 955.95H268.5M259.9 956.85H268.5M277.39 944V945M273.09 944H281.69M273.09 945H281.69M290.57 917.5V922.5M286.27 917.5H294.87M286.27 922.5H294.87M293.21 910.1V915.9M288.91 910.1H297.51M288.91 915.9H297.51M295.85 900.9V907.5M291.55 900.9H300.15M291.55 907.5H300.15M298.48 892.3V899.7M294.18 892.3H302.78M294.18 899.7H302.78M301.12 881.9V890.1M296.82 881.9H305.42M296.82 890.1H305.42M303.76 872V881M299.46 872H308.06M299.46 881H308.06M306.39 859.75V869.25M302.09 859.75H310.69M302.09 869.25H310.69M309.03 847V857M304.73 847H313.33M304.73 857H313.33M311.67 833.15V843.65M307.37 833.15H315.97M307.37 843.65H315.97M314.31 822.5V833.5M310.01 822.5H318.61M310.01 833.5H318.61M316.94 813.45V824.95M312.64 813.45H321.24M312.64 824.95H321.24M319.58 806.6V818.6M315.28 806.6H323.88M315.28 818.6H323.88M322.22 799.75V812.25M317.92 799.75H326.52M317.92 812.25H326.52M324.85 795.5V808.5M320.55 795.5H329.15M320.55 808.5H329.15M327.49 792.65V806.15M323.19 792.65H331.79M323.19 806.15H331.79M330.13 795V809M325.83 795H334.43M325.83 809H334.43M332.77 805.2V820M328.47 805.2H337.07M328.47 820H337.07M335.4 814.1V829.7M331.1 814.1H339.7M331.1 829.7H339.7M338.04 828.2V844.6M333.74 828.2H342.34M333.74 844.6H342.34M340.68 847.4V864.6M336.38 847.4H344.98M336.38 864.6H344.98M343.31 865V883M339.01 865H347.61M339.01 883H347.61M345.95 871V889.8M341.65 871H350.25M341.65 889.8H350.25M348.59 890.7V910.3M344.29 890.7H352.89M344.29 910.3H352.89M351.23 910.8V931.2M346.93 910.8H355.53M346.93 931.2H355.53M353.86 926.7V947.9M349.56 926.7H358.16M349.56 947.9H358.16M356.5 903.8V925.8M352.2 903.8H360.8M352.2 925.8H360.8M359.14 919.1V941.9M354.84 919.1H363.44M354.84 941.9H363.44M364.41 909.8V934.2M360.11 909.8H368.71M360.11 934.2H368.71M369.69 936.9V962.9M365.39 936.9H373.99M365.39 962.9H373.99M396.06 901.9V919.9M391.76 901.9H400.36M391.76 919.9H400.36"/>
</g>
<g fill="#fff" stroke-width="1.85">
<rect x="129.29" y="966.55" width="6.1" height="6.1"/>
<rect x="155.66" y="966.35" width="6.1" height="6.1"/>
<rect x="182.04" y="965.95" width="6.1" height="6.1"/>
<rect x="208.41" y="964.75" width="6.1" height="6.1"/>
<rect x="234.78" y="961.45" width="6.1" height="6.1"/>
<rect x="261.15" y="953.35" width="6.1" height="6.1"/>
<rect x="274.34" y="941.45" width="6.1" height="6.1"/>
<rect x="287.52" y="916.95" width="6.1" height="6.1"/>
<rect x="290.16" y="909.95" width="6.1" height="6.1"/>
<rect x="292.8" y="901.15" width="6.1" height="6.1"/>
<rect x="295.43" y="892.95" width="6.1" height="6.1"/>
<rect x="298.07" y="882.95" width="6.1" height="6.1"/>
<rect x="300.71" y="873.45" width="6.1" height="6.1"/>
<rect x="303.34" y="861.45" width="6.1" height="6.1"/>
<rect x="305.98" y="848.95" width="6.1" height="6.1"/>
<rect x="308.62" y="835.35" width="6.1" height="6.1"/>
<rect x="311.26" y="824.95" width="6.1" height="6.1"/>
<rect x="313.89" y="816.15" width="6.1" height="6.1"/>
<rect x="316.53" y="809.55" width="6.1" height="6.1"/>
<rect x="319.17" y="802.95" width="6.1" height="6.1"/>
<rect x="321.8" y="798.95" width="6.1" height="6.1"/>
<rect x="324.44" y="796.35" width="6.1" height="6.1"/>
<rect x="327.08" y="798.95" width="6.1" height="6.1"/>
<rect x="329.72" y="809.55" width="6.1" height="6.1"/>
<rect x="332.35" y="818.85" width="6.1" height="6.1"/>
<rect x="334.99" y="833.35" width="6.1" height="6.1"/>
<rect x="337.63" y="852.95" width="6.1" height="6.1"/>
<rect x="340.26" y="870.95" width="6.1" height="6.1"/>
<rect x="342.9" y="877.35" width="6.1" height="6.1"/>
<rect x="345.54" y="897.45" width="6.1" height="6.1"/>
<rect x="348.18" y="917.95" width="6.1" height="6.1"/>
<rect x="350.81" y="934.25" width="6.1" height="6.1"/>
<rect x="353.45" y="911.75" width="6.1" height="6.1"/>
<rect x="356.09" y="927.45" width="6.1" height="6.1"/>
<rect x="361.36" y="918.95" width="6.1" height="6.1"/>
<rect x="366.64" y="946.85" width="6.1" height="6.1"/>
<rect x="393.01" y="907.85" width="6.1" height="6.1"/>
</g></g>
<g stroke="#0000ff" stroke-width="1.9" fill="none">
<g clip-path="url(#clip_dn)">
<polyline stroke-linejoin="round" points="79.6,969.6 132.34,969.6 158.71,969.5 185.09,969.3 211.46,968.5 237.83,967.1 264.2,960.9 277.39,949.6 290.57,926.9 293.21,919 295.85,909.9 298.48,894 301.12,885.5 303.76,867.9 306.39,847 309.03,822.5 311.67,806 314.31,785.5 316.94,759 319.58,739.2 322.22,765.6 324.85,772.2 327.49,786.8 330.13,834.3 332.77,863 335.4,894.5 338.04,876.1 340.68,912.1 343.31,883.2 345.95,925 348.59,947.9 351.23,929 353.86,907.2 356.5,923 359.14,933 364.41,899.2 369.69,941 396.06,958.4"/>
<path d="M237.83 966.74V967.46M233.53 966.74H242.13M233.53 967.46H242.13M264.2 960.45V961.35M259.9 960.45H268.5M259.9 961.35H268.5M277.39 949.1V950.1M273.09 949.1H281.69M273.09 950.1H281.69M290.57 923.9V929.9M286.27 923.9H294.87M286.27 929.9H294.87M293.21 915.5V922.5M288.91 915.5H297.51M288.91 922.5H297.51M295.85 905.9V913.9M291.55 905.9H300.15M291.55 913.9H300.15M298.48 889.5V898.5M294.18 889.5H302.78M294.18 898.5H302.78M301.12 880.5V890.5M296.82 880.5H305.42M296.82 890.5H305.42M303.76 862.4V873.4M299.46 862.4H308.06M299.46 873.4H308.06M306.39 841V853M302.09 841H310.69M302.09 853H310.69M309.03 815.7V829.3M304.73 815.7H313.33M304.73 829.3H313.33M311.67 798.4V813.6M307.37 798.4H315.97M307.37 813.6H315.97M314.31 777.1V793.9M310.01 777.1H318.61M310.01 793.9H318.61M316.94 749.8V768.2M312.64 749.8H321.24M312.64 768.2H321.24M319.58 729.2V749.2M315.28 729.2H323.88M315.28 749.2H323.88M322.22 754.98V776.22M317.92 754.98H326.52M317.92 776.22H326.52M324.85 760.95V783.45M320.55 760.95H329.15M320.55 783.45H329.15M327.49 774.93V798.67M323.19 774.93H331.79M323.19 798.67H331.79M330.13 821.8V846.8M325.83 821.8H334.43M325.83 846.8H334.43M332.77 850V876M328.47 850H337.07M328.47 876H337.07M335.4 881V908M331.1 881H339.7M331.1 908H339.7M338.04 862.1V890.1M333.74 862.1H342.34M333.74 890.1H342.34M340.68 897.6V926.6M336.38 897.6H344.98M336.38 926.6H344.98M343.31 868.2V898.2M339.01 868.2H347.61M339.01 898.2H347.61M345.95 909.5V940.5M341.65 909.5H350.25M341.65 940.5H350.25M348.59 931.9V963.9M344.29 931.9H352.89M344.29 963.9H352.89M351.23 914V944M346.93 914H355.53M346.93 944H355.53M353.86 893.2V921.2M349.56 893.2H358.16M349.56 921.2H358.16M356.5 910V936M352.2 910H360.8M352.2 936H360.8M359.14 921V945M354.84 921H363.44M354.84 945H363.44M364.41 883.2V915.2M360.11 883.2H368.71M360.11 915.2H368.71M369.69 930V952M365.39 930H373.99M365.39 952H373.99M396.06 942.7V974.1M391.76 942.7H400.36M391.76 974.1H400.36"/>
</g>
<g fill="#fff" stroke-width="1.85">
<path d="M132.34 965.6L128.88 971.6L135.81 971.6Z"/>
<path d="M158.71 965.5L155.25 971.5L162.18 971.5Z"/>
<path d="M185.09 965.3L181.62 971.3L188.55 971.3Z"/>
<path d="M211.46 964.5L207.99 970.5L214.92 970.5Z"/>
<path d="M237.83 963.1L234.36 969.1L241.29 969.1Z"/>
<path d="M264.2 956.9L260.74 962.9L267.66 962.9Z"/>
<path d="M277.39 945.6L273.92 951.6L280.85 951.6Z"/>
<path d="M290.57 922.9L287.11 928.9L294.04 928.9Z"/>
<path d="M293.21 915L289.74 921L296.67 921Z"/>
<path d="M295.85 905.9L292.38 911.9L299.31 911.9Z"/>
<path d="M298.48 890L295.02 896L301.95 896Z"/>
<path d="M301.12 881.5L297.66 887.5L304.58 887.5Z"/>
<path d="M303.76 863.9L300.29 869.9L307.22 869.9Z"/>
<path d="M306.39 843L302.93 849L309.86 849Z"/>
<path d="M309.03 818.5L305.57 824.5L312.5 824.5Z"/>
<path d="M311.67 802L308.2 808L315.13 808Z"/>
<path d="M314.31 781.5L310.84 787.5L317.77 787.5Z"/>
<path d="M316.94 755L313.48 761L320.41 761Z"/>
<path d="M319.58 735.2L316.12 741.2L323.04 741.2Z"/>
<path d="M322.22 761.6L318.75 767.6L325.68 767.6Z"/>
<path d="M324.85 768.2L321.39 774.2L328.32 774.2Z"/>
<path d="M327.49 782.8L324.03 788.8L330.96 788.8Z"/>
<path d="M330.13 830.3L326.66 836.3L333.59 836.3Z"/>
<path d="M332.77 859L329.3 865L336.23 865Z"/>
<path d="M335.4 890.5L331.94 896.5L338.87 896.5Z"/>
<path d="M338.04 872.1L334.58 878.1L341.5 878.1Z"/>
<path d="M340.68 908.1L337.21 914.1L344.14 914.1Z"/>
<path d="M343.31 879.2L339.85 885.2L346.78 885.2Z"/>
<path d="M345.95 921L342.49 927L349.42 927Z"/>
<path d="M348.59 943.9L345.12 949.9L352.05 949.9Z"/>
<path d="M351.23 925L347.76 931L354.69 931Z"/>
<path d="M353.86 903.2L350.4 909.2L357.33 909.2Z"/>
<path d="M356.5 919L353.04 925L359.96 925Z"/>
<path d="M359.14 929L355.67 935L362.6 935Z"/>
<path d="M364.41 895.2L360.95 901.2L367.88 901.2Z"/>
<path d="M369.69 937L366.22 943L373.15 943Z"/>
<path d="M396.06 954.4L392.59 960.4L399.52 960.4Z"/>
</g></g>
<g stroke="#008b00" stroke-width="1.9" fill="none">
<g clip-path="url(#clip_dphi)">
<polyline stroke-linejoin="round" points="456.2,969.8 508.89,969.8 535.23,969.7 561.57,969.5 587.91,968.9 614.26,966.6 640.6,960.5 653.77,951.2 666.94,941.7 669.58,939.5 672.21,936.8 674.85,934 677.48,931.3 680.11,928 682.75,924.7 685.38,921.3 688.02,918 690.65,914.7 693.29,911.4 695.92,908.2 698.55,905.5 701.19,906.5 703.82,903.5 706.46,900.2 709.09,899.5 711.73,898 714.36,897.8 716.99,896.5 719.63,897.2 722.26,895.8 724.9,897 727.53,896.5 730.17,898.4 732.8,901 735.43,903.4 738.07,905.5 740.7,908.9 743.34,915.5 745.97,919.4 748.61,921.5 751.24,926 753.87,932.8 756.51,936 759.14,937.5 761.78,941.4 764.41,945 767.05,948 769.68,951.2 772.31,954.9 785.49,960.1 798.66,970.6 811.83,976.4 825,970.9"/>
<path d="M614.26 966.27V966.93M609.96 966.27H618.56M609.96 966.93H618.56M640.6 960.08V960.92M636.3 960.08H644.9M636.3 960.92H644.9M653.77 950.74V951.66M649.47 950.74H658.07M649.47 951.66H658.07M666.94 941.2V942.2M662.64 941.2H671.24M662.64 942.2H671.24M669.58 938.95V940.05M665.28 938.95H673.88M665.28 940.05H673.88M672.21 936.2V937.4M667.91 936.2H676.51M667.91 937.4H676.51M674.85 933.35V934.65M670.55 933.35H679.15M670.55 934.65H679.15M677.48 930.6V932M673.18 930.6H681.78M673.18 932H681.78M680.11 927.25V928.75M675.81 927.25H684.41M675.81 928.75H684.41M682.75 923.9V925.5M678.45 923.9H687.05M678.45 925.5H687.05M685.38 920.45V922.15M681.08 920.45H689.68M681.08 922.15H689.68M688.02 917.1V918.9M683.72 917.1H692.32M683.72 918.9H692.32M690.65 913.75V915.65M686.35 913.75H694.95M686.35 915.65H694.95M693.29 910.4V912.4M688.99 910.4H697.59M688.99 912.4H697.59M695.92 907.15V909.25M691.62 907.15H700.22M691.62 909.25H700.22M698.55 904.4V906.6M694.25 904.4H702.85M694.25 906.6H702.85M701.19 905.35V907.65M696.89 905.35H705.49M696.89 907.65H705.49M703.82 902.3V904.7M699.52 902.3H708.12M699.52 904.7H708.12M706.46 898.95V901.45M702.16 898.95H710.76M702.16 901.45H710.76M709.09 898.2V900.8M704.79 898.2H713.39M704.79 900.8H713.39M711.73 896.65V899.35M707.43 896.65H716.03M707.43 899.35H716.03M714.36 896.4V899.2M710.06 896.4H718.66M710.06 899.2H718.66M716.99 895.05V897.95M712.69 895.05H721.29M712.69 897.95H721.29M719.63 895.7V898.7M715.33 895.7H723.93M715.33 898.7H723.93M722.26 894.27V897.33M717.96 894.27H726.56M717.96 897.33H726.56M724.9 895.45V898.55M720.6 895.45H729.2M720.6 898.55H729.2M727.53 894.92V898.08M723.23 894.92H731.83M723.23 898.08H731.83M730.17 896.79V900.01M725.87 896.79H734.47M725.87 900.01H734.47M732.8 899.37V902.63M728.5 899.37H737.1M728.5 902.63H737.1M735.43 901.74V905.06M731.13 901.74H739.73M731.13 905.06H739.73M738.07 903.82V907.18M733.77 903.82H742.37M733.77 907.18H742.37M740.7 907.19V910.61M736.4 907.19H745M736.4 910.61H745M743.34 913.76V917.24M739.04 913.76H747.64M739.04 917.24H747.64M745.97 917.64V921.16M741.67 917.64H750.27M741.67 921.16H750.27M748.61 919.71V923.29M744.31 919.71H752.91M744.31 923.29H752.91M751.24 924.18V927.82M746.94 924.18H755.54M746.94 927.82H755.54M753.87 930.96V934.64M749.57 930.96H758.17M749.57 934.64H758.17M756.51 934.13V937.87M752.21 934.13H760.81M752.21 937.87H760.81M759.14 935.61V939.39M754.84 935.61H763.44M754.84 939.39H763.44M761.78 939.48V943.32M757.48 939.48H766.08M757.48 943.32H766.08M764.41 943.05V946.95M760.11 943.05H768.71M760.11 946.95H768.71M767.05 946.03V949.97M762.75 946.03H771.35M762.75 949.97H771.35M769.68 949.2V953.2M765.38 949.2H773.98M765.38 953.2H773.98M772.31 952.1V957.7M768.01 952.1H776.61M768.01 957.7H776.61M785.49 955.8V964.4M781.19 955.8H789.79M781.19 964.4H789.79M798.66 966.07V975.13M794.36 966.07H802.96M794.36 975.13H802.96M811.83 971.63V981.17M807.53 971.63H816.13M807.53 981.17H816.13M825 965.9V975.9M820.7 965.9H829.3M820.7 975.9H829.3"/>
</g>
<g fill="#fff" stroke-width="1.85">
<circle cx="508.89" cy="969.8" r="3.3"/>
<circle cx="535.23" cy="969.7" r="3.3"/>
<circle cx="561.57" cy="969.5" r="3.3"/>
<circle cx="587.91" cy="968.9" r="3.3"/>
<circle cx="614.26" cy="966.6" r="3.3"/>
<circle cx="640.6" cy="960.5" r="3.3"/>
<circle cx="653.77" cy="951.2" r="3.3"/>
<circle cx="666.94" cy="941.7" r="3.3"/>
<circle cx="669.58" cy="939.5" r="3.3"/>
<circle cx="672.21" cy="936.8" r="3.3"/>
<circle cx="674.85" cy="934" r="3.3"/>
<circle cx="677.48" cy="931.3" r="3.3"/>
<circle cx="680.11" cy="928" r="3.3"/>
<circle cx="682.75" cy="924.7" r="3.3"/>
<circle cx="685.38" cy="921.3" r="3.3"/>
<circle cx="688.02" cy="918" r="3.3"/>
<circle cx="690.65" cy="914.7" r="3.3"/>
<circle cx="693.29" cy="911.4" r="3.3"/>
<circle cx="695.92" cy="908.2" r="3.3"/>
<circle cx="698.55" cy="905.5" r="3.3"/>
<circle cx="701.19" cy="906.5" r="3.3"/>
<circle cx="703.82" cy="903.5" r="3.3"/>
<circle cx="706.46" cy="900.2" r="3.3"/>
<circle cx="709.09" cy="899.5" r="3.3"/>
<circle cx="711.73" cy="898" r="3.3"/>
<circle cx="714.36" cy="897.8" r="3.3"/>
<circle cx="716.99" cy="896.5" r="3.3"/>
<circle cx="719.63" cy="897.2" r="3.3"/>
<circle cx="722.26" cy="895.8" r="3.3"/>
<circle cx="724.9" cy="897" r="3.3"/>
<circle cx="727.53" cy="896.5" r="3.3"/>
<circle cx="730.17" cy="898.4" r="3.3"/>
<circle cx="732.8" cy="901" r="3.3"/>
<circle cx="735.43" cy="903.4" r="3.3"/>
<circle cx="738.07" cy="905.5" r="3.3"/>
<circle cx="740.7" cy="908.9" r="3.3"/>
<circle cx="743.34" cy="915.5" r="3.3"/>
<circle cx="745.97" cy="919.4" r="3.3"/>
<circle cx="748.61" cy="921.5" r="3.3"/>
<circle cx="751.24" cy="926" r="3.3"/>
<circle cx="753.87" cy="932.8" r="3.3"/>
<circle cx="756.51" cy="936" r="3.3"/>
<circle cx="759.14" cy="937.5" r="3.3"/>
<circle cx="761.78" cy="941.4" r="3.3"/>
<circle cx="764.41" cy="945" r="3.3"/>
<circle cx="767.05" cy="948" r="3.3"/>
<circle cx="769.68" cy="951.2" r="3.3"/>
<circle cx="772.31" cy="954.9" r="3.3"/>
<circle cx="785.49" cy="960.1" r="3.3"/>
<circle cx="798.66" cy="970.6" r="3.3"/>
<circle cx="811.83" cy="976.4" r="3.3"/>
<circle cx="825" cy="970.9" r="3.3"/>
</g></g>
<g stroke="#ff0000" stroke-width="1.9" fill="none">
<g clip-path="url(#clip_dphi)">
<polyline stroke-linejoin="round" points="456.2,969.8 508.89,969.8 535.23,969.6 561.57,969.2 587.91,968 614.26,961.5 640.6,951.2 653.77,940 666.94,924.5 669.58,921 672.21,916 674.85,911 677.48,905.5 680.11,900.2 682.75,896.5 685.38,892.9 688.02,879.7 690.65,875.5 693.29,872.4 695.92,868.5 698.55,865.8 701.19,861.2 703.82,858.5 706.46,858 709.09,861 711.73,866 714.36,873 716.99,883 719.63,890.9 722.26,898.9 724.9,906.8 727.53,913.6 730.17,921.2 732.8,930 735.43,934 740.7,950 745.97,964.7 772.31,974.8"/>
<path d="M614.26 961.14V961.86M609.96 961.14H618.56M609.96 961.86H618.56M640.6 950.75V951.65M636.3 950.75H644.9M636.3 951.65H644.9M653.77 939.5V940.5M649.47 939.5H658.07M649.47 940.5H658.07M666.94 922.45V926.55M662.64 922.45H671.24M662.64 926.55H671.24M669.58 918.64V923.36M665.28 918.64H673.88M665.28 923.36H673.88M672.21 913.33V918.67M667.91 913.33H676.51M667.91 918.67H676.51M674.85 908.02V913.98M670.55 908.02H679.15M670.55 913.98H679.15M677.48 902.21V908.79M673.18 902.21H681.78M673.18 908.79H681.78M680.11 896.6V903.8M675.81 896.6H684.41M675.81 903.8H684.41M682.75 892.87V900.13M678.45 892.87H687.05M678.45 900.13H687.05M685.38 889.25V896.55M681.08 889.25H689.68M681.08 896.55H689.68M688.02 876.02V883.38M683.72 876.02H692.32M683.72 883.38H692.32M690.65 871.79V879.21M686.35 871.79H694.95M686.35 879.21H694.95M693.29 868.67V876.13M688.99 868.67H697.59M688.99 876.13H697.59M695.92 864.74V872.26M691.62 864.74H700.22M691.62 872.26H700.22M698.55 862.01V869.59M694.25 862.01H702.85M694.25 869.59H702.85M701.19 857.39V865.01M696.89 857.39H705.49M696.89 865.01H705.49M703.82 854.66V862.34M699.52 854.66H708.12M699.52 862.34H708.12M706.46 854.13V861.87M702.16 854.13H710.76M702.16 861.87H710.76M709.09 857.11V864.89M704.79 857.11H713.39M704.79 864.89H713.39M711.73 862.08V869.92M707.43 862.08H716.03M707.43 869.92H716.03M714.36 869.05V876.95M710.06 869.05H718.66M710.06 876.95H718.66M716.99 879.03V886.97M712.69 879.03H721.29M712.69 886.97H721.29M719.63 886.9V894.9M715.33 886.9H723.93M715.33 894.9H723.93M722.26 894.84V902.96M717.96 894.84H726.56M717.96 902.96H726.56M724.9 902.68V910.92M720.6 902.68H729.2M720.6 910.92H729.2M727.53 909.41V917.79M723.23 909.41H731.83M723.23 917.79H731.83M730.17 916.95V925.45M725.87 916.95H734.47M725.87 925.45H734.47M732.8 925.69V934.31M728.5 925.69H737.1M728.5 934.31H737.1M735.43 929.62V938.38M731.13 929.62H739.73M731.13 938.38H739.73M740.7 945.5V954.5M736.4 945.5H745M736.4 954.5H745M745.97 959.7V969.7M741.67 959.7H750.27M741.67 969.7H750.27M772.31 966.9V982.7M768.01 966.9H776.61M768.01 982.7H776.61"/>
</g>
<g fill="#fff" stroke-width="1.85">
<path d="M505.19 969.8L508.89 966.1L512.59 969.8L508.89 973.5Z"/>
<path d="M531.53 969.6L535.23 965.9L538.93 969.6L535.23 973.3Z"/>
<path d="M557.87 969.2L561.57 965.5L565.27 969.2L561.57 972.9Z"/>
<path d="M584.21 968L587.91 964.3L591.61 968L587.91 971.7Z"/>
<path d="M610.56 961.5L614.26 957.8L617.96 961.5L614.26 965.2Z"/>
<path d="M636.9 951.2L640.6 947.5L644.3 951.2L640.6 954.9Z"/>
<path d="M650.07 940L653.77 936.3L657.47 940L653.77 943.7Z"/>
<path d="M663.24 924.5L666.94 920.8L670.64 924.5L666.94 928.2Z"/>
<path d="M665.88 921L669.58 917.3L673.28 921L669.58 924.7Z"/>
<path d="M668.51 916L672.21 912.3L675.91 916L672.21 919.7Z"/>
<path d="M671.15 911L674.85 907.3L678.55 911L674.85 914.7Z"/>
<path d="M673.78 905.5L677.48 901.8L681.18 905.5L677.48 909.2Z"/>
<path d="M676.41 900.2L680.11 896.5L683.81 900.2L680.11 903.9Z"/>
<path d="M679.05 896.5L682.75 892.8L686.45 896.5L682.75 900.2Z"/>
<path d="M681.68 892.9L685.38 889.2L689.08 892.9L685.38 896.6Z"/>
<path d="M684.32 879.7L688.02 876L691.72 879.7L688.02 883.4Z"/>
<path d="M686.95 875.5L690.65 871.8L694.35 875.5L690.65 879.2Z"/>
<path d="M689.59 872.4L693.29 868.7L696.99 872.4L693.29 876.1Z"/>
<path d="M692.22 868.5L695.92 864.8L699.62 868.5L695.92 872.2Z"/>
<path d="M694.85 865.8L698.55 862.1L702.25 865.8L698.55 869.5Z"/>
<path d="M697.49 861.2L701.19 857.5L704.89 861.2L701.19 864.9Z"/>
<path d="M700.12 858.5L703.82 854.8L707.52 858.5L703.82 862.2Z"/>
<path d="M702.76 858L706.46 854.3L710.16 858L706.46 861.7Z"/>
<path d="M705.39 861L709.09 857.3L712.79 861L709.09 864.7Z"/>
<path d="M708.03 866L711.73 862.3L715.43 866L711.73 869.7Z"/>
<path d="M710.66 873L714.36 869.3L718.06 873L714.36 876.7Z"/>
<path d="M713.29 883L716.99 879.3L720.69 883L716.99 886.7Z"/>
<path d="M715.93 890.9L719.63 887.2L723.33 890.9L719.63 894.6Z"/>
<path d="M718.56 898.9L722.26 895.2L725.96 898.9L722.26 902.6Z"/>
<path d="M721.2 906.8L724.9 903.1L728.6 906.8L724.9 910.5Z"/>
<path d="M723.83 913.6L727.53 909.9L731.23 913.6L727.53 917.3Z"/>
<path d="M726.47 921.2L730.17 917.5L733.87 921.2L730.17 924.9Z"/>
<path d="M729.1 930L732.8 926.3L736.5 930L732.8 933.7Z"/>
<path d="M731.73 934L735.43 930.3L739.13 934L735.43 937.7Z"/>
<path d="M737 950L740.7 946.3L744.4 950L740.7 953.7Z"/>
<path d="M742.27 964.7L745.97 961L749.67 964.7L745.97 968.4Z"/>
<path d="M768.61 974.8L772.31 971.1L776.01 974.8L772.31 978.5Z"/>
</g></g>
<g stroke="#9400d3" stroke-width="1.9" fill="none">
<g clip-path="url(#clip_dphi)">
<polyline stroke-linejoin="round" points="456.2,969.8 508.89,969.8 535.23,969.6 561.57,969.3 587.91,968.3 614.26,963.9 640.6,955.6 653.77,942.5 666.94,917.5 669.58,911 672.21,902 674.85,893.5 677.48,883 680.11,871.7 682.75,862 685.38,851.5 688.02,842.4 690.65,833.5 693.29,825.8 695.92,821.9 698.55,818.5 701.19,821.9 703.82,825 706.46,831.1 709.09,852.4 711.73,868.4 714.36,892 716.99,908 719.63,918 722.26,924.7 724.9,945.5 727.53,962 730.17,983.2 732.8,985.6 735.43,978 740.7,969 745.97,991.8 772.31,962"/>
<path d="M614.26 963.54V964.26M609.96 963.54H618.56M609.96 964.26H618.56M640.6 955.15V956.05M636.3 955.15H644.9M636.3 956.05H644.9M653.77 942V943M649.47 942H658.07M649.47 943H658.07M666.94 915V920M662.64 915H671.24M662.64 920H671.24M669.58 908.1V913.9M665.28 908.1H673.88M665.28 913.9H673.88M672.21 898.7V905.3M667.91 898.7H676.51M667.91 905.3H676.51M674.85 889.8V897.2M670.55 889.8H679.15M670.55 897.2H679.15M677.48 878.9V887.1M673.18 878.9H681.78M673.18 887.1H681.78M680.11 867.2V876.2M675.81 867.2H684.41M675.81 876.2H684.41M682.75 857.25V866.75M678.45 857.25H687.05M678.45 866.75H687.05M685.38 846.5V856.5M681.08 846.5H689.68M681.08 856.5H689.68M688.02 837.15V847.65M683.72 837.15H692.32M683.72 847.65H692.32M690.65 828V839M686.35 828H694.95M686.35 839H694.95M693.29 820.05V831.55M688.99 820.05H697.59M688.99 831.55H697.59M695.92 815.9V827.9M691.62 815.9H700.22M691.62 827.9H700.22M698.55 812.25V824.75M694.25 812.25H702.85M694.25 824.75H702.85M701.19 815.4V828.4M696.89 815.4H705.49M696.89 828.4H705.49M703.82 818.25V831.75M699.52 818.25H708.12M699.52 831.75H708.12M706.46 824.1V838.1M702.16 824.1H710.76M702.16 838.1H710.76M709.09 845V859.8M704.79 845H713.39M704.79 859.8H713.39M711.73 860.6V876.2M707.43 860.6H716.03M707.43 876.2H716.03M714.36 883.8V900.2M710.06 883.8H718.66M710.06 900.2H718.66M716.99 899.4V916.6M712.69 899.4H721.29M712.69 916.6H721.29M719.63 909V927M715.33 909H723.93M715.33 927H723.93M722.26 915.3V934.1M717.96 915.3H726.56M717.96 934.1H726.56M724.9 935.7V955.3M720.6 935.7H729.2M720.6 955.3H729.2M727.53 951.8V972.2M723.23 951.8H731.83M723.23 972.2H731.83M730.17 972.6V993.8M725.87 972.6H734.47M725.87 993.8H734.47M732.8 974.6V996.6M728.5 974.6H737.1M728.5 996.6H737.1M735.43 966.6V989.4M731.13 966.6H739.73M731.13 989.4H739.73M740.7 956.8V981.2M736.4 956.8H745M736.4 981.2H745M745.97 978.8V1004.8M741.67 978.8H750.27M741.67 1004.8H750.27M772.31 954.4V969.6M768.01 954.4H776.61M768.01 969.6H776.61"/>
</g>
<g fill="#fff" stroke-width="1.85">
<rect x="505.84" y="966.75" width="6.1" height="6.1"/>
<rect x="532.18" y="966.55" width="6.1" height="6.1"/>
<rect x="558.52" y="966.25" width="6.1" height="6.1"/>
<rect x="584.86" y="965.25" width="6.1" height="6.1"/>
<rect x="611.21" y="960.85" width="6.1" height="6.1"/>
<rect x="637.55" y="952.55" width="6.1" height="6.1"/>
<rect x="650.72" y="939.45" width="6.1" height="6.1"/>
<rect x="663.89" y="914.45" width="6.1" height="6.1"/>
<rect x="666.53" y="907.95" width="6.1" height="6.1"/>
<rect x="669.16" y="898.95" width="6.1" height="6.1"/>
<rect x="671.8" y="890.45" width="6.1" height="6.1"/>
<rect x="674.43" y="879.95" width="6.1" height="6.1"/>
<rect x="677.06" y="868.65" width="6.1" height="6.1"/>
<rect x="679.7" y="858.95" width="6.1" height="6.1"/>
<rect x="682.33" y="848.45" width="6.1" height="6.1"/>
<rect x="684.97" y="839.35" width="6.1" height="6.1"/>
<rect x="687.6" y="830.45" width="6.1" height="6.1"/>
<rect x="690.24" y="822.75" width="6.1" height="6.1"/>
<rect x="692.87" y="818.85" width="6.1" height="6.1"/>
<rect x="695.5" y="815.45" width="6.1" height="6.1"/>
<rect x="698.14" y="818.85" width="6.1" height="6.1"/>
<rect x="700.77" y="821.95" width="6.1" height="6.1"/>
<rect x="703.41" y="828.05" width="6.1" height="6.1"/>
<rect x="706.04" y="849.35" width="6.1" height="6.1"/>
<rect x="708.68" y="865.35" width="6.1" height="6.1"/>
<rect x="711.31" y="888.95" width="6.1" height="6.1"/>
<rect x="713.94" y="904.95" width="6.1" height="6.1"/>
<rect x="716.58" y="914.95" width="6.1" height="6.1"/>
<rect x="719.21" y="921.65" width="6.1" height="6.1"/>
<rect x="721.85" y="942.45" width="6.1" height="6.1"/>
<rect x="724.48" y="958.95" width="6.1" height="6.1"/>
<rect x="727.12" y="980.15" width="6.1" height="6.1"/>
<rect x="729.75" y="982.55" width="6.1" height="6.1"/>
<rect x="732.38" y="974.95" width="6.1" height="6.1"/>
<rect x="737.65" y="965.95" width="6.1" height="6.1"/>
<rect x="742.92" y="988.75" width="6.1" height="6.1"/>
<rect x="769.26" y="958.95" width="6.1" height="6.1"/>
</g></g>
<g stroke="#0000ff" stroke-width="1.9" fill="none">
<g clip-path="url(#clip_dphi)">
<polyline stroke-linejoin="round" points="456.2,969.8 508.89,969.8 535.23,969.7 561.57,969.5 587.91,968.3 614.26,966.4 640.6,959.5 653.77,946.9 666.94,922.8 669.58,914.7 672.21,904.8 674.85,887 677.48,879 680.11,861.8 682.75,841.5 685.38,819.2 688.02,805.3 690.65,786.1 693.29,763 695.92,745.8 698.55,781.5 701.19,794.1 703.82,814.6 706.46,868.4 709.09,875.1 711.73,937.9 714.36,919.4 716.99,955.1 719.63,926.6 722.26,971 724.9,994.2 727.53,975.3 730.17,953.4 732.8,967.7 735.43,979.5 740.7,947 745.97,987.8 772.31,999.4"/>
<path d="M614.26 966.04V966.76M609.96 966.04H618.56M609.96 966.76H618.56M640.6 959.05V959.95M636.3 959.05H644.9M636.3 959.95H644.9M653.77 946.4V947.4M649.47 946.4H658.07M649.47 947.4H658.07M666.94 919.8V925.8M662.64 919.8H671.24M662.64 925.8H671.24M669.58 911.2V918.2M665.28 911.2H673.88M665.28 918.2H673.88M672.21 900.8V908.8M667.91 900.8H676.51M667.91 908.8H676.51M674.85 882.5V891.5M670.55 882.5H679.15M670.55 891.5H679.15M677.48 874V884M673.18 874H681.78M673.18 884H681.78M680.11 856.3V867.3M675.81 856.3H684.41M675.81 867.3H684.41M682.75 835.5V847.5M678.45 835.5H687.05M678.45 847.5H687.05M685.38 812.28V826.12M681.08 812.28H689.68M681.08 826.12H689.68M688.02 797.46V813.14M683.72 797.46H692.32M683.72 813.14H692.32M690.65 777.34V794.86M686.35 777.34H694.95M686.35 794.86H694.95M693.29 753.32V772.68M688.99 753.32H697.59M688.99 772.68H697.59M695.92 735.2V756.4M691.62 735.2H700.22M691.62 756.4H700.22M698.55 770.43V792.57M694.25 770.43H702.85M694.25 792.57H702.85M701.19 782.55V805.65M696.89 782.55H705.49M696.89 805.65H705.49M703.82 802.58V826.62M699.52 802.58H708.12M699.52 826.62H708.12M706.46 855.9V880.9M702.16 855.9H710.76M702.16 880.9H710.76M709.09 862.39V887.81M704.79 862.39H713.39M704.79 887.81H713.39M711.73 924.97V950.83M707.43 924.97H716.03M707.43 950.83H716.03M714.36 906.26V932.54M710.06 906.26H718.66M710.06 932.54H718.66M716.99 941.74V968.46M712.69 941.74H721.29M712.69 968.46H721.29M719.63 913.03V940.17M715.33 913.03H723.93M715.33 940.17H723.93M722.26 957.21V984.79M717.96 957.21H726.56M717.96 984.79H726.56M724.9 980.2V1008.2M720.6 980.2H729.2M720.6 1008.2H729.2M727.53 961.8V988.8M723.23 961.8H731.83M723.23 988.8H731.83M730.17 940.4V966.4M725.87 940.4H734.47M725.87 966.4H734.47M732.8 955.2V980.2M728.5 955.2H737.1M728.5 980.2H737.1M735.43 967.5V991.5M731.13 967.5H739.73M731.13 991.5H739.73M740.7 933.5V960.5M736.4 933.5H745M736.4 960.5H745M745.97 972.1V1003.5M741.67 972.1H750.27M741.67 1003.5H750.27M772.31 986.6V1012.2M768.01 986.6H776.61M768.01 1012.2H776.61"/>
</g>
<g fill="#fff" stroke-width="1.85">
<path d="M508.89 965.8L505.42 971.8L512.35 971.8Z"/>
<path d="M535.23 965.7L531.76 971.7L538.69 971.7Z"/>
<path d="M561.57 965.5L558.11 971.5L565.04 971.5Z"/>
<path d="M587.91 964.3L584.45 970.3L591.38 970.3Z"/>
<path d="M614.26 962.4L610.79 968.4L617.72 968.4Z"/>
<path d="M640.6 955.5L637.14 961.5L644.06 961.5Z"/>
<path d="M653.77 942.9L650.31 948.9L657.24 948.9Z"/>
<path d="M666.94 918.8L663.48 924.8L670.41 924.8Z"/>
<path d="M669.58 910.7L666.11 916.7L673.04 916.7Z"/>
<path d="M672.21 900.8L668.75 906.8L675.68 906.8Z"/>
<path d="M674.85 883L671.38 889L678.31 889Z"/>
<path d="M677.48 875L674.02 881L680.94 881Z"/>
<path d="M680.11 857.8L676.65 863.8L683.58 863.8Z"/>
<path d="M682.75 837.5L679.28 843.5L686.21 843.5Z"/>
<path d="M685.38 815.2L681.92 821.2L688.85 821.2Z"/>
<path d="M688.02 801.3L684.55 807.3L691.48 807.3Z"/>
<path d="M690.65 782.1L687.19 788.1L694.12 788.1Z"/>
<path d="M693.29 759L689.82 765L696.75 765Z"/>
<path d="M695.92 741.8L692.46 747.8L699.38 747.8Z"/>
<path d="M698.55 777.5L695.09 783.5L702.02 783.5Z"/>
<path d="M701.19 790.1L697.72 796.1L704.65 796.1Z"/>
<path d="M703.82 810.6L700.36 816.6L707.29 816.6Z"/>
<path d="M706.46 864.4L702.99 870.4L709.92 870.4Z"/>
<path d="M709.09 871.1L705.63 877.1L712.56 877.1Z"/>
<path d="M711.73 933.9L708.26 939.9L715.19 939.9Z"/>
<path d="M714.36 915.4L710.9 921.4L717.82 921.4Z"/>
<path d="M716.99 951.1L713.53 957.1L720.46 957.1Z"/>
<path d="M719.63 922.6L716.16 928.6L723.09 928.6Z"/>
<path d="M722.26 967L718.8 973L725.73 973Z"/>
<path d="M724.9 990.2L721.43 996.2L728.36 996.2Z"/>
<path d="M727.53 971.3L724.07 977.3L731 977.3Z"/>
<path d="M730.17 949.4L726.7 955.4L733.63 955.4Z"/>
<path d="M732.8 963.7L729.34 969.7L736.26 969.7Z"/>
<path d="M735.43 975.5L731.97 981.5L738.9 981.5Z"/>
<path d="M740.7 943L737.24 949L744.17 949Z"/>
<path d="M745.97 983.8L742.51 989.8L749.44 989.8Z"/>
<path d="M772.31 995.4L768.85 1001.4L775.78 1001.4Z"/>
</g></g>
<path d="M105.97 3.1L105.97 9.6M105.97 333.2L105.97 326.7M132.34 3.1L132.34 16.1M132.34 333.2L132.34 320.2M158.71 3.1L158.71 9.6M158.71 333.2L158.71 326.7M185.09 3.1L185.09 9.6M185.09 333.2L185.09 326.7M211.46 3.1L211.46 9.6M211.46 333.2L211.46 326.7M237.83 3.1L237.83 9.6M237.83 333.2L237.83 326.7M264.2 3.1L264.2 16.1M264.2 333.2L264.2 320.2M290.57 3.1L290.57 9.6M290.57 333.2L290.57 326.7M316.94 3.1L316.94 9.6M316.94 333.2L316.94 326.7M343.31 3.1L343.31 9.6M343.31 333.2L343.31 326.7M369.69 3.1L369.69 9.6M369.69 333.2L369.69 326.7M396.06 3.1L396.06 16.1M396.06 333.2L396.06 320.2M422.43 3.1L422.43 9.6M422.43 333.2L422.43 326.7M79.6 314.2L92.6 314.2M448.8 314.2L435.8 314.2M79.6 294.76L86.1 294.76M448.8 294.76L442.3 294.76M79.6 275.33L86.1 275.33M448.8 275.33L442.3 275.33M79.6 255.89L86.1 255.89M448.8 255.89L442.3 255.89M79.6 236.46L92.6 236.46M448.8 236.46L435.8 236.46M79.6 217.02L86.1 217.02M448.8 217.02L442.3 217.02M79.6 197.59L86.1 197.59M448.8 197.59L442.3 197.59M79.6 178.15L86.1 178.15M448.8 178.15L442.3 178.15M79.6 158.72L92.6 158.72M448.8 158.72L435.8 158.72M79.6 139.28L86.1 139.28M448.8 139.28L442.3 139.28M79.6 119.85L86.1 119.85M448.8 119.85L442.3 119.85M79.6 100.41L86.1 100.41M448.8 100.41L442.3 100.41M79.6 80.98L92.6 80.98M448.8 80.98L435.8 80.98M79.6 61.54L86.1 61.54M448.8 61.54L442.3 61.54M79.6 42.11L86.1 42.11M448.8 42.11L442.3 42.11M79.6 22.68L86.1 22.68M448.8 22.68L442.3 22.68" stroke="#000" stroke-width="2.0" fill="none"/>
<rect x="79.6" y="3.1" width="369.2" height="330.1" fill="none" stroke="#000" stroke-width="2.0" stroke-linejoin="round"/>
<path d="M482.54 3.1L482.54 9.6M482.54 333.2L482.54 326.7M508.89 3.1L508.89 16.1M508.89 333.2L508.89 320.2M535.23 3.1L535.23 9.6M535.23 333.2L535.23 326.7M561.57 3.1L561.57 9.6M561.57 333.2L561.57 326.7M587.91 3.1L587.91 9.6M587.91 333.2L587.91 326.7M614.26 3.1L614.26 9.6M614.26 333.2L614.26 326.7M640.6 3.1L640.6 16.1M640.6 333.2L640.6 320.2M666.94 3.1L666.94 9.6M666.94 333.2L666.94 326.7M693.29 3.1L693.29 9.6M693.29 333.2L693.29 326.7M719.63 3.1L719.63 9.6M719.63 333.2L719.63 326.7M745.97 3.1L745.97 9.6M745.97 333.2L745.97 326.7M772.31 3.1L772.31 16.1M772.31 333.2L772.31 320.2M798.66 3.1L798.66 9.6M798.66 333.2L798.66 326.7M456.2 305.69L462.7 305.69M825 305.69L818.5 305.69M456.2 278.18L462.7 278.18M825 278.18L818.5 278.18M456.2 250.67L469.2 250.67M825 250.67L812 250.67M456.2 223.17L462.7 223.17M825 223.17L818.5 223.17M456.2 195.66L462.7 195.66M825 195.66L818.5 195.66M456.2 168.15L469.2 168.15M825 168.15L812 168.15M456.2 140.64L462.7 140.64M825 140.64L818.5 140.64M456.2 113.13L462.7 113.13M825 113.13L818.5 113.13M456.2 85.62L469.2 85.62M825 85.62L812 85.62M456.2 58.12L462.7 58.12M825 58.12L818.5 58.12M456.2 30.61L462.7 30.61M825 30.61L818.5 30.61" stroke="#000" stroke-width="2.0" fill="none"/>
<rect x="456.2" y="3.1" width="368.8" height="330.1" fill="none" stroke="#000" stroke-width="2.0" stroke-linejoin="round"/>
<path d="M105.97 340.5L105.97 347M105.97 670.5L105.97 664M132.34 340.5L132.34 353.5M132.34 670.5L132.34 657.5M158.71 340.5L158.71 347M158.71 670.5L158.71 664M185.09 340.5L185.09 347M185.09 670.5L185.09 664M211.46 340.5L211.46 347M211.46 670.5L211.46 664M237.83 340.5L237.83 347M237.83 670.5L237.83 664M264.2 340.5L264.2 353.5M264.2 670.5L264.2 657.5M290.57 340.5L290.57 347M290.57 670.5L290.57 664M316.94 340.5L316.94 347M316.94 670.5L316.94 664M343.31 340.5L343.31 347M343.31 670.5L343.31 664M369.69 340.5L369.69 347M369.69 670.5L369.69 664M396.06 340.5L396.06 353.5M396.06 670.5L396.06 657.5M422.43 340.5L422.43 347M422.43 670.5L422.43 664M79.6 661.45L86.1 661.45M448.8 661.45L442.3 661.45M79.6 646.15L92.6 646.15M448.8 646.15L435.8 646.15M79.6 630.85L86.1 630.85M448.8 630.85L442.3 630.85M79.6 615.55L86.1 615.55M448.8 615.55L442.3 615.55M79.6 600.25L86.1 600.25M448.8 600.25L442.3 600.25M79.6 584.95L86.1 584.95M448.8 584.95L442.3 584.95M79.6 569.65L92.6 569.65M448.8 569.65L435.8 569.65M79.6 554.36L86.1 554.36M448.8 554.36L442.3 554.36M79.6 539.06L86.1 539.06M448.8 539.06L442.3 539.06M79.6 523.76L86.1 523.76M448.8 523.76L442.3 523.76M79.6 508.46L86.1 508.46M448.8 508.46L442.3 508.46M79.6 493.16L92.6 493.16M448.8 493.16L435.8 493.16M79.6 477.86L86.1 477.86M448.8 477.86L442.3 477.86M79.6 462.56L86.1 462.56M448.8 462.56L442.3 462.56M79.6 447.26L86.1 447.26M448.8 447.26L442.3 447.26M79.6 431.96L86.1 431.96M448.8 431.96L442.3 431.96M79.6 416.66L92.6 416.66M448.8 416.66L435.8 416.66M79.6 401.37L86.1 401.37M448.8 401.37L442.3 401.37M79.6 386.07L86.1 386.07M448.8 386.07L442.3 386.07M79.6 370.77L86.1 370.77M448.8 370.77L442.3 370.77M79.6 355.47L86.1 355.47M448.8 355.47L442.3 355.47" stroke="#000" stroke-width="2.0" fill="none"/>
<rect x="79.6" y="340.5" width="369.2" height="330" fill="none" stroke="#000" stroke-width="2.0" stroke-linejoin="round"/>
<path d="M482.54 340.5L482.54 347M482.54 670.5L482.54 664M508.89 340.5L508.89 353.5M508.89 670.5L508.89 657.5M535.23 340.5L535.23 347M535.23 670.5L535.23 664M561.57 340.5L561.57 347M561.57 670.5L561.57 664M587.91 340.5L587.91 347M587.91 670.5L587.91 664M614.26 340.5L614.26 347M614.26 670.5L614.26 664M640.6 340.5L640.6 353.5M640.6 670.5L640.6 657.5M666.94 340.5L666.94 347M666.94 670.5L666.94 664M693.29 340.5L693.29 347M693.29 670.5L693.29 664M719.63 340.5L719.63 347M719.63 670.5L719.63 664M745.97 340.5L745.97 347M745.97 670.5L745.97 664M772.31 340.5L772.31 353.5M772.31 670.5L772.31 657.5M798.66 340.5L798.66 347M798.66 670.5L798.66 664M456.2 658.83L462.7 658.83M825 658.83L818.5 658.83M456.2 647L469.2 647M825 647L812 647M456.2 635.17L462.7 635.17M825 635.17L818.5 635.17M456.2 623.34L462.7 623.34M825 623.34L818.5 623.34M456.2 611.51L462.7 611.51M825 611.51L818.5 611.51M456.2 599.68L462.7 599.68M825 599.68L818.5 599.68M456.2 587.85L469.2 587.85M825 587.85L812 587.85M456.2 576.02L462.7 576.02M825 576.02L818.5 576.02M456.2 564.19L462.7 564.19M825 564.19L818.5 564.19M456.2 552.36L462.7 552.36M825 552.36L818.5 552.36M456.2 540.53L462.7 540.53M825 540.53L818.5 540.53M456.2 528.7L469.2 528.7M825 528.7L812 528.7M456.2 516.87L462.7 516.87M825 516.87L818.5 516.87M456.2 505.04L462.7 505.04M825 505.04L818.5 505.04M456.2 493.21L462.7 493.21M825 493.21L818.5 493.21M456.2 481.38L462.7 481.38M825 481.38L818.5 481.38M456.2 469.55L469.2 469.55M825 469.55L812 469.55M456.2 457.72L462.7 457.72M825 457.72L818.5 457.72M456.2 445.89L462.7 445.89M825 445.89L818.5 445.89M456.2 434.06L462.7 434.06M825 434.06L818.5 434.06M456.2 422.23L462.7 422.23M825 422.23L818.5 422.23M456.2 410.4L469.2 410.4M825 410.4L812 410.4M456.2 398.57L462.7 398.57M825 398.57L818.5 398.57M456.2 386.74L462.7 386.74M825 386.74L818.5 386.74M456.2 374.91L462.7 374.91M825 374.91L818.5 374.91M456.2 363.08L462.7 363.08M825 363.08L818.5 363.08M456.2 351.25L469.2 351.25M825 351.25L812 351.25" stroke="#000" stroke-width="2.0" fill="none"/>
<rect x="456.2" y="340.5" width="368.8" height="330" fill="none" stroke="#000" stroke-width="2.0" stroke-linejoin="round"/>
<path d="M105.97 677.4L105.97 683.9M105.97 1007.85L105.97 1001.35M132.34 677.4L132.34 690.4M132.34 1007.85L132.34 994.85M158.71 677.4L158.71 683.9M158.71 1007.85L158.71 1001.35M185.09 677.4L185.09 683.9M185.09 1007.85L185.09 1001.35M211.46 677.4L211.46 683.9M211.46 1007.85L211.46 1001.35M237.83 677.4L237.83 683.9M237.83 1007.85L237.83 1001.35M264.2 677.4L264.2 690.4M264.2 1007.85L264.2 994.85M290.57 677.4L290.57 683.9M290.57 1007.85L290.57 1001.35M316.94 677.4L316.94 683.9M316.94 1007.85L316.94 1001.35M343.31 677.4L343.31 683.9M343.31 1007.85L343.31 1001.35M369.69 677.4L369.69 683.9M369.69 1007.85L369.69 1001.35M396.06 677.4L396.06 690.4M396.06 1007.85L396.06 994.85M422.43 677.4L422.43 683.9M422.43 1007.85L422.43 1001.35M79.6 998.85L86.1 998.85M448.8 998.85L442.3 998.85M79.6 984.23L86.1 984.23M448.8 984.23L442.3 984.23M79.6 969.6L92.6 969.6M448.8 969.6L435.8 969.6M79.6 954.98L86.1 954.98M448.8 954.98L442.3 954.98M79.6 940.35L86.1 940.35M448.8 940.35L442.3 940.35M79.6 925.73L86.1 925.73M448.8 925.73L442.3 925.73M79.6 911.1L92.6 911.1M448.8 911.1L435.8 911.1M79.6 896.48L86.1 896.48M448.8 896.48L442.3 896.48M79.6 881.85L86.1 881.85M448.8 881.85L442.3 881.85M79.6 867.23L86.1 867.23M448.8 867.23L442.3 867.23M79.6 852.6L92.6 852.6M448.8 852.6L435.8 852.6M79.6 837.98L86.1 837.98M448.8 837.98L442.3 837.98M79.6 823.35L86.1 823.35M448.8 823.35L442.3 823.35M79.6 808.73L86.1 808.73M448.8 808.73L442.3 808.73M79.6 794.1L92.6 794.1M448.8 794.1L435.8 794.1M79.6 779.48L86.1 779.48M448.8 779.48L442.3 779.48M79.6 764.85L86.1 764.85M448.8 764.85L442.3 764.85M79.6 750.23L86.1 750.23M448.8 750.23L442.3 750.23M79.6 735.6L92.6 735.6M448.8 735.6L435.8 735.6M79.6 720.98L86.1 720.98M448.8 720.98L442.3 720.98M79.6 706.35L86.1 706.35M448.8 706.35L442.3 706.35M79.6 691.73L86.1 691.73M448.8 691.73L442.3 691.73" stroke="#000" stroke-width="2.0" fill="none"/>
<rect x="79.6" y="677.4" width="369.2" height="330.45" fill="none" stroke="#000" stroke-width="2.0" stroke-linejoin="round"/>
<path d="M482.54 677.4L482.54 683.9M482.54 1007.85L482.54 1001.35M508.89 677.4L508.89 690.4M508.89 1007.85L508.89 994.85M535.23 677.4L535.23 683.9M535.23 1007.85L535.23 1001.35M561.57 677.4L561.57 683.9M561.57 1007.85L561.57 1001.35M587.91 677.4L587.91 683.9M587.91 1007.85L587.91 1001.35M614.26 677.4L614.26 683.9M614.26 1007.85L614.26 1001.35M640.6 677.4L640.6 690.4M640.6 1007.85L640.6 994.85M666.94 677.4L666.94 683.9M666.94 1007.85L666.94 1001.35M693.29 677.4L693.29 683.9M693.29 1007.85L693.29 1001.35M719.63 677.4L719.63 683.9M719.63 1007.85L719.63 1001.35M745.97 677.4L745.97 683.9M745.97 1007.85L745.97 1001.35M772.31 677.4L772.31 690.4M772.31 1007.85L772.31 994.85M798.66 677.4L798.66 683.9M798.66 1007.85L798.66 1001.35M456.2 995.25L462.7 995.25M825 995.25L818.5 995.25M456.2 982.52L462.7 982.52M825 982.52L818.5 982.52M456.2 969.8L469.2 969.8M825 969.8L812 969.8M456.2 957.07L462.7 957.07M825 957.07L818.5 957.07M456.2 944.35L462.7 944.35M825 944.35L818.5 944.35M456.2 931.62L462.7 931.62M825 931.62L818.5 931.62M456.2 918.9L462.7 918.9M825 918.9L818.5 918.9M456.2 906.17L469.2 906.17M825 906.17L812 906.17M456.2 893.45L462.7 893.45M825 893.45L818.5 893.45M456.2 880.72L462.7 880.72M825 880.72L818.5 880.72M456.2 868L462.7 868M825 868L818.5 868M456.2 855.27L462.7 855.27M825 855.27L818.5 855.27M456.2 842.55L469.2 842.55M825 842.55L812 842.55M456.2 829.82L462.7 829.82M825 829.82L818.5 829.82M456.2 817.1L462.7 817.1M825 817.1L818.5 817.1M456.2 804.38L462.7 804.38M825 804.38L818.5 804.38M456.2 791.65L462.7 791.65M825 791.65L818.5 791.65M456.2 778.92L469.2 778.92M825 778.92L812 778.92M456.2 766.2L462.7 766.2M825 766.2L818.5 766.2M456.2 753.47L462.7 753.47M825 753.47L818.5 753.47M456.2 740.75L462.7 740.75M825 740.75L818.5 740.75M456.2 728.02L462.7 728.02M825 728.02L818.5 728.02M456.2 715.3L469.2 715.3M825 715.3L812 715.3M456.2 702.58L462.7 702.58M825 702.58L818.5 702.58M456.2 689.85L462.7 689.85M825 689.85L818.5 689.85" stroke="#000" stroke-width="2.0" fill="none"/>
<rect x="456.2" y="677.4" width="368.8" height="330.45" fill="none" stroke="#000" stroke-width="2.0" stroke-linejoin="round"/>
<text x="132.84" y="1035.6" font-size="24" text-anchor="middle">0.10</text>
<text x="264.7" y="1035.6" font-size="24" text-anchor="middle">0.15</text>
<text x="396.56" y="1035.6" font-size="24" text-anchor="middle">0.20</text>
<text x="509.39" y="1035.6" font-size="24" text-anchor="middle">0.10</text>
<text x="641.1" y="1035.6" font-size="24" text-anchor="middle">0.15</text>
<text x="772.81" y="1035.6" font-size="24" text-anchor="middle">0.20</text>
<text x="332.2" y="1049.6" font-size="33" text-anchor="middle" class="s">μ</text>
<text x="709" y="1049.6" font-size="33" text-anchor="middle" class="s">μ</text>
<text x="70.5" y="424.26" font-size="24" text-anchor="end">0.15</text>
<text x="70.5" y="500.76" font-size="24" text-anchor="end">0.10</text>
<text x="70.5" y="577.25" font-size="24" text-anchor="end">0.05</text>
<text x="70.5" y="653.75" font-size="24" text-anchor="end">0.00</text>
<text x="70.5" y="977.2" font-size="24" text-anchor="end">0</text>
<text x="70.5" y="918.7" font-size="24" text-anchor="end">2</text>
<text x="70.5" y="860.2" font-size="24" text-anchor="end">4</text>
<text x="70.5" y="801.7" font-size="24" text-anchor="end">6</text>
<text x="70.5" y="321.8" font-size="24" text-anchor="end">0</text>
<text x="55.4" y="250.36" font-size="24" text-anchor="end">10</text>
<text x="15.6" y="250.36" font-size="24" text-anchor="end">2</text>
<path d="M15.9 237.66L27.3 249.06M15.9 249.06L27.3 237.66" stroke="#000" stroke-width="1.6" fill="none"/>
<text x="55.6" y="236.16" font-size="16.5" text-anchor="start">-3</text>
<text x="55.4" y="172.62" font-size="24" text-anchor="end">10</text>
<text x="15.6" y="172.62" font-size="24" text-anchor="end">4</text>
<path d="M15.9 159.92L27.3 171.32M15.9 171.32L27.3 159.92" stroke="#000" stroke-width="1.6" fill="none"/>
<text x="55.6" y="158.42" font-size="16.5" text-anchor="start">-3</text>
<text x="55.4" y="94.88" font-size="24" text-anchor="end">10</text>
<text x="15.6" y="94.88" font-size="24" text-anchor="end">6</text>
<path d="M15.9 82.18L27.3 93.58M15.9 93.58L27.3 82.18" stroke="#000" stroke-width="1.6" fill="none"/>
<text x="55.6" y="80.68" font-size="16.5" text-anchor="start">-3</text>
<text x="836.2" y="258.27" font-size="24" text-anchor="start">0.31</text>
<text x="836.2" y="175.75" font-size="24" text-anchor="start">0.32</text>
<text x="836.2" y="93.22" font-size="24" text-anchor="start">0.33</text>
<text x="836.2" y="654.6" font-size="24" text-anchor="start">0.0</text>
<text x="836.2" y="595.45" font-size="24" text-anchor="start">0.5</text>
<text x="836.2" y="536.3" font-size="24" text-anchor="start">1.0</text>
<text x="836.2" y="477.15" font-size="24" text-anchor="start">1.5</text>
<text x="836.2" y="977.4" font-size="24" text-anchor="start">0</text>
<text x="836.2" y="913.77" font-size="24" text-anchor="start">50</text>
<text x="836.2" y="850.15" font-size="24" text-anchor="start">100</text>
<text x="836.2" y="786.52" font-size="24" text-anchor="start">150</text>
<defs><path id="chi" d="M0.21 -9.58L0.31 -9.82L0.41 -10.06L0.51 -10.31L0.60 -10.56L0.69 -10.81L0.79 -11.05L0.88 -11.28L0.98 -11.51L1.09 -11.72L1.19 -11.91L1.30 -12.09L1.42 -12.26L1.55 -12.44L1.69 -12.62L1.84 -12.81L1.99 -12.98L2.14 -13.14L2.28 -13.28L2.42 -13.40L2.55 -13.49L2.66 -13.55L2.73 -13.56L2.76 -13.55L2.74 -13.52L2.73 -13.49L2.76 -13.47L2.82 -13.45L2.90 -13.42L3.00 -13.37L3.11 -13.31L3.24 -13.24L3.37 -13.16L3.50 -13.06L3.64 -12.96L3.77 -12.84L3.89 -12.72L4.02 -12.57L4.16 -12.41L4.31 -12.21L4.46 -12.00L4.62 -11.76L4.78 -11.50L4.94 -11.23L5.10 -10.94L5.25 -10.63L5.40 -10.32L5.55 -9.99L5.68 -9.66L5.81 -9.32L5.94 -8.96L6.06 -8.57L6.18 -8.17L6.30 -7.75L6.41 -7.32L6.52 -6.88L6.62 -6.44L6.73 -6.00L6.82 -5.56L6.92 -5.12L7.01 -4.70L7.10 -4.29L7.18 -3.88L7.25 -3.46L7.32 -3.04L7.39 -2.63L7.46 -2.21L7.52 -1.79L7.58 -1.38L7.64 -0.97L7.71 -0.57L7.78 -0.17L7.85 0.21L7.92 0.58L7.98 0.95L8.04 1.31L8.11 1.67L8.17 2.02L8.23 2.38L8.31 2.73L8.39 3.08L8.48 3.43L8.58 3.77L8.70 4.11L8.83 4.43L8.96 4.75L9.11 5.06L9.26 5.38L9.43 5.71L9.61 6.03L9.80 6.34L10.02 6.64L10.26 6.93L10.53 7.21L10.85 7.46L11.23 7.67L11.68 7.81L12.15 7.86L12.60 7.81L12.99 7.68L13.34 7.52L13.64 7.32L13.92 7.10L14.17 6.87L14.40 6.62L14.62 6.37L14.82 6.11L15.00 5.86L15.18 5.60L15.35 5.32L15.50 5.01L15.63 4.71L15.75 4.39L15.85 4.08L15.94 3.76L16.03 3.44L16.11 3.12L16.19 2.81L16.27 2.50L16.35 2.20L16.44 1.91L16.01 1.69L15.82 1.94L15.63 2.20L15.45 2.48L15.27 2.75L15.09 3.01L14.91 3.27L14.73 3.52L14.55 3.76L14.37 3.97L14.20 4.15L14.03 4.31L13.86 4.44L13.67 4.57L13.46 4.71L13.25 4.83L13.03 4.95L12.83 5.04L12.64 5.12L12.46 5.17L12.32 5.19L12.23 5.19L12.18 5.17L12.21 5.15L12.28 5.15L12.33 5.16L12.31 5.16L12.23 5.11L12.11 5.03L11.96 4.91L11.79 4.76L11.61 4.58L11.42 4.37L11.24 4.15L11.06 3.92L10.89 3.68L10.74 3.45L10.60 3.23L10.47 3.00L10.35 2.75L10.22 2.48L10.11 2.20L9.99 1.90L9.88 1.59L9.78 1.26L9.67 0.93L9.57 0.58L9.47 0.22L9.37 -0.13L9.28 -0.49L9.19 -0.86L9.11 -1.24L9.03 -1.63L8.96 -2.03L8.88 -2.44L8.81 -2.86L8.74 -3.28L8.67 -3.70L8.60 -4.13L8.53 -4.56L8.45 -4.98L8.38 -5.41L8.31 -5.84L8.24 -6.28L8.18 -6.74L8.12 -7.19L8.05 -7.65L7.98 -8.11L7.91 -8.56L7.83 -9.01L7.74 -9.44L7.64 -9.87L7.54 -10.27L7.42 -10.66L7.31 -11.04L7.19 -11.42L7.06 -11.79L6.93 -12.15L6.79 -12.50L6.64 -12.84L6.48 -13.17L6.31 -13.49L6.12 -13.79L5.93 -14.07L5.71 -14.34L5.48 -14.59L5.24 -14.82L4.98 -15.03L4.71 -15.22L4.42 -15.38L4.13 -15.52L3.83 -15.63L3.52 -15.72L3.20 -15.78L2.87 -15.79L2.54 -15.77L2.18 -15.69L1.84 -15.54L1.54 -15.34L1.30 -15.11L1.10 -14.88L0.93 -14.63L0.78 -14.37L0.65 -14.11L0.54 -13.85L0.44 -13.59L0.35 -13.34L0.26 -13.09L0.18 -12.85L0.11 -12.59L0.05 -12.32L0.00 -12.05L-0.03 -11.78L-0.06 -11.51L-0.08 -11.24L-0.09 -10.97L-0.10 -10.71L-0.12 -10.44L-0.13 -10.18L-0.15 -9.93L-0.17 -9.67ZM12.22 -14.85L15.30 -14.70L3.54 6.82L0.36 6.63Z"/></defs>
<text x="18" y="39.3" font-size="33.5" text-anchor="start">n</text>
<use href="#chi" x="12.3" y="367.9"/>
<text x="29.6" y="382" font-size="23" text-anchor="start">n</text>
<use href="#chi" x="12.3" y="704.8"/>
<text x="29.6" y="718.9" font-size="23" text-anchor="start">n</text>
<path d="M38.1 676.4L42.4 677.8L36.4 690.7L33.1 688.9Z" fill="#000"/>
<text x="836.8" y="47.5" font-size="29" text-anchor="start">&lt;</text>
<text x="860.6" y="45.6" font-size="29" text-anchor="start">|</text>
<text x="867.9" y="45.6" font-size="29" text-anchor="start" class="s">ϕ</text>
<text x="884.2" y="45.6" font-size="29" text-anchor="start">|</text>
<text x="891.2" y="27.6" font-size="20" text-anchor="start">2</text>
<text x="903.3" y="47.5" font-size="29" text-anchor="start">&gt;</text>
<use href="#chi" x="842.9" y="370.5"/>
<text x="860.2" y="384" font-size="23" text-anchor="start">|</text>
<text x="866.3" y="384.3" font-size="23" text-anchor="start" class="s">ϕ</text>
<text x="877.8" y="384" font-size="23" text-anchor="start">|</text>
<text x="883.9" y="370.6" font-size="15.8" text-anchor="start">2</text>
<use href="#chi" x="842.9" y="707.6"/>
<text x="860.2" y="721.1" font-size="23" text-anchor="start">|</text>
<text x="866.3" y="721.4" font-size="23" text-anchor="start" class="s">ϕ</text>
<text x="877.8" y="721.1" font-size="23" text-anchor="start">|</text>
<text x="883.9" y="707.7" font-size="15.8" text-anchor="start">2</text>
<path d="M870.95 678.7L875.04 680.46L869.54 693.15L865.31 691.17Z" fill="#000"/>
<g stroke="#008b00" stroke-width="1.9" fill="none"><path d="M121.1 41.5H142.3"/><g fill="#fff" stroke-width="1.85"><circle cx="121.1" cy="41.5" r="3.3"/><circle cx="142.3" cy="41.5" r="3.3"/></g></g>
<text x="182" y="53.9" font-size="23" text-anchor="end">8</text>
<text x="182.5" y="40.4" font-size="16" text-anchor="start">3</text>
<text x="191.8" y="53.9" font-size="23" text-anchor="start">x100</text>
<g stroke="#ff0000" stroke-width="1.9" fill="none"><path d="M121.1 77.6H142.3"/><g fill="#fff" stroke-width="1.85"><path d="M117.4 77.6L121.1 73.9L124.8 77.6L121.1 81.3Z"/><path d="M138.6 77.6L142.3 73.9L146 77.6L142.3 81.3Z"/></g></g>
<text x="182" y="90" font-size="23" text-anchor="end">12</text>
<text x="182.5" y="76.5" font-size="16" text-anchor="start">3</text>
<text x="191.8" y="90" font-size="23" text-anchor="start">x100</text>
<g stroke="#9400d3" stroke-width="1.9" fill="none"><path d="M121.1 113.8H142.3"/><g fill="#fff" stroke-width="1.85"><rect x="118.05" y="110.75" width="6.1" height="6.1"/><rect x="139.25" y="110.75" width="6.1" height="6.1"/></g></g>
<text x="182" y="126.2" font-size="23" text-anchor="end">16</text>
<text x="182.5" y="112.7" font-size="16" text-anchor="start">3</text>
<text x="191.8" y="126.2" font-size="23" text-anchor="start">x100</text>
<g stroke="#0000ff" stroke-width="1.9" fill="none"><path d="M121.1 149.9H142.3"/><g fill="#fff" stroke-width="1.85"><path d="M121.1 145.9L117.64 151.9L124.56 151.9Z"/><path d="M142.3 145.9L138.84 151.9L145.76 151.9Z"/></g></g>
<text x="182" y="162.3" font-size="23" text-anchor="end">20</text>
<text x="182.5" y="148.8" font-size="16" text-anchor="start">3</text>
<text x="191.8" y="162.3" font-size="23" text-anchor="start">x100</text>
</svg></body></html>
